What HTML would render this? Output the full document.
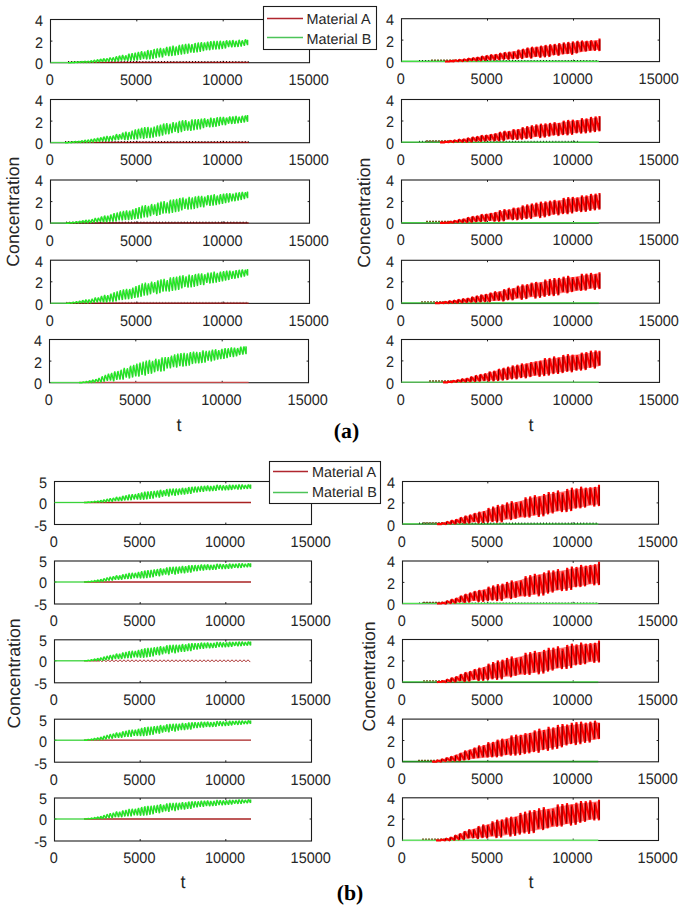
<!DOCTYPE html>
<html><head><meta charset="utf-8"><title>Concentration plots</title>
<style>html,body{margin:0;padding:0;background:#ffffff;}svg{display:block;text-rendering:geometricPrecision;}</style>
</head><body>
<svg width="685" height="910" viewBox="0 0 685 910">
<rect width="100%" height="100%" fill="#ffffff"/>
<rect x="50.5" y="19.5" width="259.0" height="43.2" fill="none" stroke="#1c1c1c" stroke-width="1.1"/>
<line x1="136.8" y1="19.5" x2="136.8" y2="21.4" stroke="#1c1c1c" stroke-width="1"/>
<line x1="136.8" y1="62.7" x2="136.8" y2="60.8" stroke="#1c1c1c" stroke-width="1"/>
<line x1="223.2" y1="19.5" x2="223.2" y2="21.4" stroke="#1c1c1c" stroke-width="1"/>
<line x1="223.2" y1="62.7" x2="223.2" y2="60.8" stroke="#1c1c1c" stroke-width="1"/>
<line x1="50.5" y1="41.1" x2="52.4" y2="41.1" stroke="#1c1c1c" stroke-width="1"/>
<line x1="309.5" y1="41.1" x2="307.6" y2="41.1" stroke="#1c1c1c" stroke-width="1"/>
<text transform="translate(43.00,25.90) scale(0.9450,1)" font-family='"Liberation Sans", sans-serif' font-size="15.3" text-anchor="end" fill="#262626">4</text>
<text transform="translate(43.00,47.50) scale(0.9450,1)" font-family='"Liberation Sans", sans-serif' font-size="15.3" text-anchor="end" fill="#262626">2</text>
<text transform="translate(43.00,69.10) scale(0.9450,1)" font-family='"Liberation Sans", sans-serif' font-size="15.3" text-anchor="end" fill="#262626">0</text>
<text transform="translate(49.70,85.00) scale(0.9450,1)" font-family='"Liberation Sans", sans-serif' font-size="15.3" text-anchor="middle" fill="#262626">0</text>
<text transform="translate(136.03,85.00) scale(0.9450,1)" font-family='"Liberation Sans", sans-serif' font-size="15.3" text-anchor="middle" fill="#262626">5000</text>
<text transform="translate(222.37,85.00) scale(0.9450,1)" font-family='"Liberation Sans", sans-serif' font-size="15.3" text-anchor="middle" fill="#262626">10000</text>
<text transform="translate(308.70,85.00) scale(0.9450,1)" font-family='"Liberation Sans", sans-serif' font-size="15.3" text-anchor="middle" fill="#262626">15000</text>
<line x1="68.0" y1="62.40" x2="248.6" y2="62.40" stroke="#9c1010" stroke-width="1.4"/>
<line x1="68.0" y1="61.60" x2="248.6" y2="61.60" stroke="#1a0000" stroke-width="1.2" stroke-dasharray="0.9 2.2" opacity="1.0"/>
<line x1="50.5" y1="62.5" x2="68.0" y2="62.5" stroke="#4cd24c" stroke-width="1.3"/>
<polyline points="68.00,62.70 69.10,62.60 71.15,62.69 72.25,62.28 74.30,62.69 75.40,61.99 77.45,62.62 78.55,61.66 80.60,62.66 81.70,61.38 83.75,62.63 84.85,61.13 86.89,62.70 88.00,61.02 90.04,62.69 91.15,60.61 93.19,62.48 94.30,60.02 96.34,62.38 97.44,59.51 99.49,62.19 100.59,58.88 102.64,61.86 103.74,58.42 105.79,61.81 106.89,58.36 108.94,61.49 110.04,57.51 112.09,61.02 113.19,57.36 115.24,61.52 116.34,56.33 118.39,61.19 119.49,55.58 121.54,60.70 122.64,54.99 124.68,60.63 125.79,55.29 127.83,60.88 128.94,53.65 130.98,60.70 132.08,53.11 134.13,60.53 135.23,52.58 137.28,60.45 138.38,51.86 140.43,59.79 141.53,51.14 143.58,58.98 144.68,51.53 146.73,59.46 147.83,49.99 149.88,59.30 150.98,50.11 153.03,58.92 154.13,48.97 156.18,58.19 157.28,48.30 159.32,57.30 160.43,47.95 162.47,57.48 163.58,48.45 165.62,55.67 166.72,46.81 168.77,56.18 169.87,46.51 171.92,55.98 173.02,45.55 175.07,55.57 176.17,46.46 178.22,55.01 179.32,44.95 181.37,54.71 182.47,44.35 184.52,54.06 185.62,43.79 187.67,53.71 188.77,43.61 190.82,52.60 191.92,44.10 193.96,52.79 195.07,42.96 197.11,52.30 198.22,42.52 200.26,51.87 201.37,42.16 203.41,51.15 204.51,42.41 206.56,50.28 207.66,41.55 209.71,50.28 210.81,41.16 212.86,49.62 213.96,40.94 216.01,49.52 217.11,40.91 219.16,49.39 220.26,40.79 222.31,48.99 223.41,41.04 225.46,48.50 226.56,40.26 228.61,47.02 229.71,40.41 231.75,47.28 232.86,40.03 234.90,47.15 236.01,40.83 238.05,46.96 239.15,39.82 241.20,46.55 242.30,40.31 244.35,45.84 245.45,39.33 247.50,45.14 247.50,39.64" fill="none" stroke="#22f022" stroke-width="1.4" stroke-linejoin="bevel" />
<path d="M84.05,61.36L84.05,62.55M87.19,61.26L87.19,62.60M90.34,60.94L90.34,62.58M93.49,60.39L93.49,62.36M96.64,59.90L96.64,62.24M99.79,59.31L99.79,62.03M102.94,58.88L102.94,61.68M106.09,58.83L106.09,61.62M109.24,58.03L109.24,61.27M112.39,57.93L112.39,60.78M115.54,56.96L115.54,61.26M118.69,56.25L118.69,60.91M121.84,55.70L121.84,60.39M124.98,56.01L124.98,60.30M128.13,54.44L128.13,60.53M131.28,53.94L131.28,60.32M134.43,53.44L134.43,60.13M137.58,52.76L137.58,60.02M140.73,52.08L140.73,59.34M143.88,52.49L143.88,58.50M147.03,50.96L147.03,58.97M150.18,51.09L150.18,58.81M153.33,49.95L153.33,58.42M156.48,49.29L156.48,57.69M159.62,48.95L159.62,56.80M162.77,49.45L162.77,56.97M165.92,47.81L165.92,55.16M169.07,47.52L169.07,55.67M172.22,46.57L172.22,55.46M175.37,47.49L175.37,55.04M178.52,45.98L178.52,54.48M181.67,45.31L181.67,54.18M184.82,44.73L184.82,53.54M187.97,44.54L187.97,53.20M191.12,45.03L191.12,52.09M194.26,43.88L194.26,52.29M197.41,43.43L197.41,51.80M200.56,43.06L200.56,51.38M203.71,43.30L203.71,50.67M206.86,42.42L206.86,49.81M210.01,42.03L210.01,49.81M213.16,41.80L213.16,49.15M216.31,41.69L216.31,49.06M219.46,41.55L219.46,48.94M222.61,41.79L222.61,48.56M225.76,40.98L225.76,48.08M228.91,41.11L228.91,46.61M232.05,40.71L232.05,46.89M235.20,41.50L235.20,46.77M238.35,40.46L238.35,46.59M241.50,40.94L241.50,46.19M244.65,39.93L244.65,45.50M247.80,40.17L247.80,44.81" fill="none" stroke="#3aa83a" stroke-width="0.6"/>
<rect x="50.5" y="99.5" width="259.0" height="43.2" fill="none" stroke="#1c1c1c" stroke-width="1.1"/>
<line x1="136.8" y1="99.5" x2="136.8" y2="101.4" stroke="#1c1c1c" stroke-width="1"/>
<line x1="136.8" y1="142.7" x2="136.8" y2="140.8" stroke="#1c1c1c" stroke-width="1"/>
<line x1="223.2" y1="99.5" x2="223.2" y2="101.4" stroke="#1c1c1c" stroke-width="1"/>
<line x1="223.2" y1="142.7" x2="223.2" y2="140.8" stroke="#1c1c1c" stroke-width="1"/>
<line x1="50.5" y1="121.1" x2="52.4" y2="121.1" stroke="#1c1c1c" stroke-width="1"/>
<line x1="309.5" y1="121.1" x2="307.6" y2="121.1" stroke="#1c1c1c" stroke-width="1"/>
<text transform="translate(43.00,105.90) scale(0.9450,1)" font-family='"Liberation Sans", sans-serif' font-size="15.3" text-anchor="end" fill="#262626">4</text>
<text transform="translate(43.00,127.50) scale(0.9450,1)" font-family='"Liberation Sans", sans-serif' font-size="15.3" text-anchor="end" fill="#262626">2</text>
<text transform="translate(43.00,149.10) scale(0.9450,1)" font-family='"Liberation Sans", sans-serif' font-size="15.3" text-anchor="end" fill="#262626">0</text>
<text transform="translate(49.70,165.00) scale(0.9450,1)" font-family='"Liberation Sans", sans-serif' font-size="15.3" text-anchor="middle" fill="#262626">0</text>
<text transform="translate(136.03,165.00) scale(0.9450,1)" font-family='"Liberation Sans", sans-serif' font-size="15.3" text-anchor="middle" fill="#262626">5000</text>
<text transform="translate(222.37,165.00) scale(0.9450,1)" font-family='"Liberation Sans", sans-serif' font-size="15.3" text-anchor="middle" fill="#262626">10000</text>
<text transform="translate(308.70,165.00) scale(0.9450,1)" font-family='"Liberation Sans", sans-serif' font-size="15.3" text-anchor="middle" fill="#262626">15000</text>
<line x1="65.0" y1="142.40" x2="248.6" y2="142.40" stroke="#9c1010" stroke-width="1.4"/>
<line x1="65.0" y1="141.60" x2="248.6" y2="141.60" stroke="#1a0000" stroke-width="1.2" stroke-dasharray="0.9 2.2" opacity="1.0"/>
<line x1="50.5" y1="142.5" x2="65.0" y2="142.5" stroke="#4cd24c" stroke-width="1.3"/>
<polyline points="65.00,142.70 66.10,142.57 68.15,142.70 69.25,142.18 71.29,142.70 72.39,141.69 74.44,142.70 75.54,141.25 77.59,142.57 78.69,141.09 80.73,142.62 81.83,140.46 83.88,142.57 84.98,139.97 87.03,142.58 88.13,139.73 90.17,142.66 91.27,139.08 93.32,142.39 94.42,138.51 96.47,141.87 97.57,137.86 99.61,141.90 100.71,137.38 102.76,141.25 103.86,136.60 105.91,141.26 107.01,135.97 109.05,141.27 110.15,136.05 112.20,140.83 113.30,135.43 115.34,140.35 116.45,134.03 118.49,140.09 119.59,134.21 121.64,139.42 122.74,132.55 124.78,140.17 125.89,131.61 127.93,140.19 129.03,132.04 131.08,139.28 132.18,130.54 134.22,139.53 135.33,129.28 137.37,139.45 138.47,128.72 140.52,138.43 141.62,127.72 143.66,138.81 144.77,127.13 146.81,138.23 147.91,126.98 149.96,138.18 151.06,127.52 153.10,137.60 154.20,126.54 156.25,136.72 157.35,125.33 159.40,136.36 160.50,124.60 162.54,135.61 163.64,123.46 165.69,134.44 166.79,123.03 168.84,134.25 169.94,123.73 171.98,133.19 173.08,122.06 175.13,131.82 176.23,122.47 178.28,133.00 179.38,120.86 181.42,132.08 182.52,120.24 184.57,130.93 185.67,120.06 187.72,130.65 188.82,121.36 190.86,130.85 191.96,119.35 194.01,130.28 195.11,119.20 197.16,129.74 198.26,119.04 200.30,129.32 201.40,118.63 203.45,128.19 204.55,118.23 206.59,127.00 207.70,119.02 209.74,127.37 210.84,117.69 212.89,127.16 213.99,118.05 216.03,126.73 217.14,117.22 219.18,126.01 220.28,116.90 222.33,125.16 223.43,116.85 225.47,125.27 226.58,117.53 228.62,123.68 229.72,116.37 231.77,124.02 232.87,116.35 234.91,123.76 236.02,115.82 238.06,123.33 239.16,116.67 241.21,122.79 242.31,115.74 244.35,122.43 245.45,115.37 247.50,121.82 247.50,115.07" fill="none" stroke="#22f022" stroke-width="1.4" stroke-linejoin="bevel" />
<path d="M77.89,141.35L77.89,142.49M81.03,140.79L81.03,142.51M84.18,140.33L84.18,142.44M87.33,140.12L87.33,142.43M90.47,139.57L90.47,142.48M93.62,139.03L93.62,142.19M96.77,138.41L96.77,141.66M99.91,137.96L99.91,141.67M103.06,137.21L103.06,141.00M106.21,136.62L106.21,140.99M109.35,136.71L109.35,140.98M112.50,136.18L112.50,140.52M115.64,134.84L115.64,140.01M118.79,135.04L118.79,139.72M121.94,133.45L121.94,139.02M125.08,132.56L125.08,139.74M128.23,133.01L128.23,139.73M131.38,131.58L131.38,138.79M134.52,130.37L134.52,139.02M137.67,129.86L137.67,138.91M140.82,128.91L140.82,137.86M143.96,128.36L143.96,138.21M147.11,128.16L147.11,137.62M150.26,128.70L150.26,137.57M153.40,127.73L153.40,136.99M156.55,126.51L156.55,136.11M159.70,125.78L159.70,135.75M162.84,124.65L162.84,135.00M165.99,124.21L165.99,133.83M169.14,124.92L169.14,133.63M172.28,123.25L172.28,132.58M175.43,123.65L175.43,131.21M178.58,122.04L178.58,132.38M181.72,121.32L181.72,131.47M184.87,121.12L184.87,130.33M188.02,122.42L188.02,130.06M191.16,120.38L191.16,130.28M194.31,120.21L194.31,129.72M197.46,120.02L197.46,129.19M200.60,119.60L200.60,128.78M203.75,119.18L203.75,127.66M206.89,119.96L206.89,126.48M210.04,118.60L210.04,126.86M213.19,118.95L213.19,126.67M216.33,118.06L216.33,126.25M219.48,117.71L219.48,125.55M222.63,117.65L222.63,124.71M225.77,118.32L225.77,124.83M228.92,117.13L228.92,123.25M232.07,117.09L232.07,123.61M235.21,116.53L235.21,123.36M238.36,117.37L238.36,122.95M241.51,116.41L241.51,122.42M244.65,116.02L244.65,122.07M247.80,115.62L247.80,121.47" fill="none" stroke="#3aa83a" stroke-width="0.6"/>
<rect x="50.5" y="180.0" width="259.0" height="43.2" fill="none" stroke="#1c1c1c" stroke-width="1.1"/>
<line x1="136.8" y1="180.0" x2="136.8" y2="181.9" stroke="#1c1c1c" stroke-width="1"/>
<line x1="136.8" y1="223.2" x2="136.8" y2="221.3" stroke="#1c1c1c" stroke-width="1"/>
<line x1="223.2" y1="180.0" x2="223.2" y2="181.9" stroke="#1c1c1c" stroke-width="1"/>
<line x1="223.2" y1="223.2" x2="223.2" y2="221.3" stroke="#1c1c1c" stroke-width="1"/>
<line x1="50.5" y1="201.6" x2="52.4" y2="201.6" stroke="#1c1c1c" stroke-width="1"/>
<line x1="309.5" y1="201.6" x2="307.6" y2="201.6" stroke="#1c1c1c" stroke-width="1"/>
<text transform="translate(43.00,186.40) scale(0.9450,1)" font-family='"Liberation Sans", sans-serif' font-size="15.3" text-anchor="end" fill="#262626">4</text>
<text transform="translate(43.00,208.00) scale(0.9450,1)" font-family='"Liberation Sans", sans-serif' font-size="15.3" text-anchor="end" fill="#262626">2</text>
<text transform="translate(43.00,229.60) scale(0.9450,1)" font-family='"Liberation Sans", sans-serif' font-size="15.3" text-anchor="end" fill="#262626">0</text>
<text transform="translate(49.70,245.50) scale(0.9450,1)" font-family='"Liberation Sans", sans-serif' font-size="15.3" text-anchor="middle" fill="#262626">0</text>
<text transform="translate(136.03,245.50) scale(0.9450,1)" font-family='"Liberation Sans", sans-serif' font-size="15.3" text-anchor="middle" fill="#262626">5000</text>
<text transform="translate(222.37,245.50) scale(0.9450,1)" font-family='"Liberation Sans", sans-serif' font-size="15.3" text-anchor="middle" fill="#262626">10000</text>
<text transform="translate(308.70,245.50) scale(0.9450,1)" font-family='"Liberation Sans", sans-serif' font-size="15.3" text-anchor="middle" fill="#262626">15000</text>
<line x1="66.0" y1="222.90" x2="248.6" y2="222.90" stroke="#8a0c0c" stroke-width="1.4"/>
<line x1="66.0" y1="222.10" x2="248.6" y2="222.10" stroke="#1a0000" stroke-width="1.2" stroke-dasharray="0.9 2.2" opacity="0.8"/>
<line x1="50.5" y1="223.0" x2="66.0" y2="223.0" stroke="#4cd24c" stroke-width="1.3"/>
<polyline points="66.00,223.20 67.10,223.03 69.13,223.20 70.22,222.51 72.26,223.18 73.35,222.01 75.39,223.06 76.48,221.47 78.52,223.14 79.61,221.01 81.65,222.90 82.74,220.41 84.78,223.00 85.87,219.87 87.91,223.12 89.00,219.79 91.03,222.91 92.13,219.16 94.16,222.52 95.26,217.95 97.29,222.29 98.39,217.89 100.42,221.74 101.52,216.45 103.55,222.28 104.65,215.54 106.68,222.28 107.78,215.73 109.81,221.53 110.91,214.38 112.94,221.67 114.03,213.17 116.07,221.43 117.16,212.51 119.20,220.40 120.29,211.49 122.33,220.53 123.42,210.81 125.46,220.04 126.55,210.37 128.59,220.14 129.68,210.57 131.72,219.78 132.81,209.43 134.84,219.14 135.94,208.03 137.97,218.99 139.07,207.07 141.10,218.45 142.20,205.67 144.23,217.45 145.33,205.02 147.36,217.31 148.46,205.78 150.49,216.16 151.59,203.94 153.62,214.68 154.72,204.38 156.75,215.98 157.85,202.60 159.88,214.97 160.97,201.66 163.01,213.63 164.10,201.14 166.14,213.29 167.23,202.37 169.27,213.52 170.36,199.71 172.40,212.85 173.49,199.24 175.53,212.23 176.62,198.75 178.66,211.75 179.75,197.97 181.78,210.40 182.88,197.48 184.91,208.98 186.01,198.58 188.04,209.61 189.14,196.90 191.17,209.48 192.27,197.45 194.30,209.05 195.40,196.33 197.43,208.17 198.53,195.86 200.56,207.12 201.66,195.77 203.69,207.37 204.78,196.68 206.82,205.26 207.91,195.05 209.95,205.87 211.04,195.00 213.08,205.62 214.17,194.21 216.21,205.11 217.30,195.48 219.34,204.37 220.43,194.18 222.47,203.90 223.56,193.69 225.59,203.07 226.69,193.21 228.72,202.53 229.82,193.09 231.85,201.29 232.95,193.57 234.98,201.23 236.08,192.57 238.11,200.56 239.21,192.22 241.24,199.95 242.34,191.94 244.37,199.10 245.47,192.14 247.50,198.15 247.50,191.55" fill="none" stroke="#22f022" stroke-width="1.4" stroke-linejoin="bevel" />
<path d="M75.69,221.78L75.69,222.98M78.82,221.36L78.82,223.03M81.95,220.80L81.95,222.77M85.08,220.31L85.08,222.84M88.21,220.25L88.21,222.94M91.33,219.75L91.33,222.70M94.46,218.61L94.46,222.28M97.59,218.56L97.59,222.02M100.72,217.20L100.72,221.44M103.85,216.35L103.85,221.95M106.98,216.56L106.98,221.92M110.11,215.27L110.11,221.14M113.24,214.13L113.24,221.25M116.37,213.51L116.37,220.98M119.50,212.54L119.50,219.93M122.63,211.90L122.63,220.03M125.76,211.48L125.76,219.52M128.89,211.71L128.89,219.59M132.02,210.62L132.02,219.21M135.14,209.26L135.14,218.54M138.27,208.34L138.27,218.38M141.40,206.99L141.40,217.81M144.53,206.35L144.53,216.79M147.66,207.08L147.66,216.63M150.79,205.25L150.79,215.49M153.92,205.68L153.92,214.00M157.05,203.91L157.05,215.30M160.18,202.97L160.18,214.29M163.31,202.45L163.31,212.95M166.44,203.69L166.44,212.60M169.57,201.03L169.57,212.84M172.70,200.56L172.70,212.17M175.83,200.08L175.83,211.54M178.96,199.30L178.96,211.06M182.08,198.69L182.08,209.71M185.21,199.78L185.21,208.30M188.34,198.07L188.34,208.94M191.47,198.61L191.47,208.83M194.60,197.47L194.60,208.41M197.73,196.98L197.73,207.54M200.86,196.87L200.86,206.50M203.99,197.78L203.99,206.76M207.12,196.12L207.12,204.67M210.25,196.05L210.25,205.28M213.38,195.24L213.38,205.05M216.51,196.48L216.51,204.55M219.64,195.14L219.64,203.83M222.77,194.62L222.77,203.38M225.89,194.10L225.89,202.57M229.02,193.95L229.02,202.05M232.15,194.41L232.15,200.83M235.28,193.37L235.28,200.79M238.41,192.99L238.41,200.14M241.54,192.68L241.54,199.54M244.67,192.85L244.67,198.71M247.80,192.13L247.80,197.79" fill="none" stroke="#3aa83a" stroke-width="0.6"/>
<rect x="50.5" y="260.2" width="259.0" height="43.2" fill="none" stroke="#1c1c1c" stroke-width="1.1"/>
<line x1="136.8" y1="260.2" x2="136.8" y2="262.1" stroke="#1c1c1c" stroke-width="1"/>
<line x1="136.8" y1="303.4" x2="136.8" y2="301.5" stroke="#1c1c1c" stroke-width="1"/>
<line x1="223.2" y1="260.2" x2="223.2" y2="262.1" stroke="#1c1c1c" stroke-width="1"/>
<line x1="223.2" y1="303.4" x2="223.2" y2="301.5" stroke="#1c1c1c" stroke-width="1"/>
<line x1="50.5" y1="281.8" x2="52.4" y2="281.8" stroke="#1c1c1c" stroke-width="1"/>
<line x1="309.5" y1="281.8" x2="307.6" y2="281.8" stroke="#1c1c1c" stroke-width="1"/>
<text transform="translate(43.00,266.60) scale(0.9450,1)" font-family='"Liberation Sans", sans-serif' font-size="15.3" text-anchor="end" fill="#262626">4</text>
<text transform="translate(43.00,288.20) scale(0.9450,1)" font-family='"Liberation Sans", sans-serif' font-size="15.3" text-anchor="end" fill="#262626">2</text>
<text transform="translate(43.00,309.80) scale(0.9450,1)" font-family='"Liberation Sans", sans-serif' font-size="15.3" text-anchor="end" fill="#262626">0</text>
<text transform="translate(49.70,325.70) scale(0.9450,1)" font-family='"Liberation Sans", sans-serif' font-size="15.3" text-anchor="middle" fill="#262626">0</text>
<text transform="translate(136.03,325.70) scale(0.9450,1)" font-family='"Liberation Sans", sans-serif' font-size="15.3" text-anchor="middle" fill="#262626">5000</text>
<text transform="translate(222.37,325.70) scale(0.9450,1)" font-family='"Liberation Sans", sans-serif' font-size="15.3" text-anchor="middle" fill="#262626">10000</text>
<text transform="translate(308.70,325.70) scale(0.9450,1)" font-family='"Liberation Sans", sans-serif' font-size="15.3" text-anchor="middle" fill="#262626">15000</text>
<line x1="66.0" y1="303.10" x2="248.6" y2="303.10" stroke="#a01414" stroke-width="1.4"/>
<line x1="66.0" y1="302.30" x2="248.6" y2="302.30" stroke="#1a0000" stroke-width="1.2" stroke-dasharray="0.9 2.2" opacity="0.3"/>
<line x1="50.5" y1="303.2" x2="66.0" y2="303.2" stroke="#4cd24c" stroke-width="1.3"/>
<polyline points="66.00,303.40 67.10,303.20 69.13,303.39 70.22,302.61 72.26,303.37 73.35,302.03 75.39,303.24 76.48,301.41 78.52,303.33 79.61,300.89 81.65,303.06 82.74,300.19 84.78,303.17 85.87,299.57 87.91,303.31 89.00,299.48 91.03,303.07 92.13,298.79 94.16,302.66 95.26,297.46 97.29,302.42 98.39,297.43 100.42,301.82 101.52,295.83 103.55,302.46 104.65,294.85 106.68,302.48 107.78,295.10 109.81,301.66 110.91,293.61 112.94,301.79 114.03,292.23 116.07,301.36 117.16,291.45 119.20,300.07 120.29,290.25 122.33,300.05 123.42,289.44 125.46,299.36 126.55,288.87 128.59,299.29 129.68,288.99 131.72,298.74 132.81,287.67 134.84,297.88 135.94,286.08 137.97,297.55 139.07,284.95 141.10,296.81 142.20,283.37 144.23,295.58 145.33,282.59 147.36,295.41 148.46,283.43 150.49,294.25 151.59,281.55 153.62,292.73 154.72,282.05 156.75,294.12 157.85,280.24 159.88,293.09 160.97,279.30 163.01,291.73 164.10,278.80 166.14,291.40 167.23,280.12 169.27,291.68 170.36,277.40 172.40,291.01 173.49,276.95 175.53,290.39 176.62,276.49 178.66,289.91 179.75,275.71 181.78,288.51 182.88,275.20 184.91,287.01 186.01,276.31 188.04,287.62 189.14,274.56 191.17,287.45 192.27,275.10 194.30,286.97 195.40,273.94 197.43,286.03 198.53,273.44 200.56,284.91 201.66,273.33 203.69,285.13 204.78,274.24 206.82,282.94 207.91,272.55 209.95,283.51 211.04,272.48 213.08,283.22 214.17,271.65 216.21,282.66 217.30,272.93 219.34,281.92 220.43,271.64 222.47,281.43 223.56,271.15 225.59,280.59 226.69,270.67 228.72,280.04 229.82,270.56 231.85,278.79 232.95,271.05 234.98,278.72 236.08,270.07 238.11,278.04 239.21,269.72 241.24,277.41 242.34,269.45 244.37,276.55 245.47,269.65 247.50,275.59 247.50,269.07" fill="none" stroke="#22f022" stroke-width="1.4" stroke-linejoin="bevel" />
<path d="M75.69,301.76L75.69,303.15M78.82,301.28L78.82,303.21M81.95,300.64L81.95,302.91M85.08,300.07L85.08,302.99M88.21,300.00L88.21,303.10M91.33,299.45L91.33,302.83M94.46,298.19L94.46,302.39M97.59,298.18L97.59,302.11M100.72,296.67L100.72,301.48M103.85,295.75L103.85,302.08M106.98,296.02L106.98,302.07M110.11,294.60L110.11,301.22M113.24,293.33L113.24,301.32M116.37,292.58L116.37,300.86M119.50,291.43L119.50,299.56M122.63,290.64L122.63,299.51M125.76,290.10L125.76,298.80M128.89,290.25L128.89,298.71M132.02,288.97L132.02,298.13M135.14,287.42L135.14,297.25M138.27,286.33L138.27,296.90M141.40,284.79L141.40,296.14M144.53,284.01L144.53,294.89M147.66,284.77L147.66,294.71M150.79,282.90L150.79,293.55M153.92,283.39L153.92,292.03M157.05,281.58L157.05,293.41M160.18,280.65L160.18,292.39M163.31,280.15L163.31,291.03M166.44,281.47L166.44,290.70M169.57,278.76L169.57,290.97M172.70,278.31L172.70,290.30M175.83,277.84L175.83,289.68M178.96,277.07L178.96,289.20M182.08,276.45L182.08,287.81M185.21,277.55L185.21,286.32M188.34,275.77L188.34,286.94M191.47,276.30L191.47,286.78M194.60,275.11L194.60,286.31M197.73,274.59L197.73,285.39M200.86,274.46L200.86,284.28M203.99,275.36L203.99,284.51M207.12,273.64L207.12,282.34M210.25,273.55L210.25,282.92M213.38,272.70L213.38,282.64M216.51,273.94L216.51,282.10M219.64,272.60L219.64,281.37M222.77,272.08L222.77,280.91M225.89,271.56L225.89,280.09M229.02,271.42L229.02,279.55M232.15,271.89L232.15,278.33M235.28,270.86L235.28,278.28M238.41,270.48L238.41,277.62M241.54,270.18L241.54,277.01M244.67,270.36L244.67,276.17M247.80,269.65L247.80,275.23" fill="none" stroke="#3aa83a" stroke-width="0.6"/>
<rect x="49.5" y="339.5" width="259.0" height="43.2" fill="none" stroke="#1c1c1c" stroke-width="1.1"/>
<line x1="135.8" y1="339.5" x2="135.8" y2="341.4" stroke="#1c1c1c" stroke-width="1"/>
<line x1="135.8" y1="382.7" x2="135.8" y2="380.8" stroke="#1c1c1c" stroke-width="1"/>
<line x1="222.2" y1="339.5" x2="222.2" y2="341.4" stroke="#1c1c1c" stroke-width="1"/>
<line x1="222.2" y1="382.7" x2="222.2" y2="380.8" stroke="#1c1c1c" stroke-width="1"/>
<line x1="49.5" y1="361.1" x2="51.4" y2="361.1" stroke="#1c1c1c" stroke-width="1"/>
<line x1="308.5" y1="361.1" x2="306.6" y2="361.1" stroke="#1c1c1c" stroke-width="1"/>
<text transform="translate(42.00,345.90) scale(0.9450,1)" font-family='"Liberation Sans", sans-serif' font-size="15.3" text-anchor="end" fill="#262626">4</text>
<text transform="translate(42.00,367.50) scale(0.9450,1)" font-family='"Liberation Sans", sans-serif' font-size="15.3" text-anchor="end" fill="#262626">2</text>
<text transform="translate(42.00,389.10) scale(0.9450,1)" font-family='"Liberation Sans", sans-serif' font-size="15.3" text-anchor="end" fill="#262626">0</text>
<text transform="translate(48.70,405.00) scale(0.9450,1)" font-family='"Liberation Sans", sans-serif' font-size="15.3" text-anchor="middle" fill="#262626">0</text>
<text transform="translate(135.03,405.00) scale(0.9450,1)" font-family='"Liberation Sans", sans-serif' font-size="15.3" text-anchor="middle" fill="#262626">5000</text>
<text transform="translate(221.37,405.00) scale(0.9450,1)" font-family='"Liberation Sans", sans-serif' font-size="15.3" text-anchor="middle" fill="#262626">10000</text>
<text transform="translate(307.70,405.00) scale(0.9450,1)" font-family='"Liberation Sans", sans-serif' font-size="15.3" text-anchor="middle" fill="#262626">15000</text>
<line x1="79.0" y1="382.40" x2="248.6" y2="382.40" stroke="#c44848" stroke-width="1.4"/>
<line x1="50.5" y1="382.5" x2="79.0" y2="382.5" stroke="#4cd24c" stroke-width="1.3"/>
<polyline points="79.00,382.70 80.10,382.47 82.15,382.70 83.25,381.80 85.30,382.70 86.40,381.21 88.45,382.60 89.56,380.45 91.60,382.70 92.71,379.77 94.75,382.52 95.86,379.13 97.91,381.96 99.01,377.99 101.06,382.32 102.16,376.25 104.21,381.74 105.31,374.96 107.36,380.85 108.46,373.58 110.51,380.59 111.61,372.79 113.66,381.34 114.76,371.34 116.81,379.80 117.91,371.03 119.96,379.68 121.07,369.74 123.11,379.73 124.22,367.93 126.26,377.63 127.37,368.21 129.42,378.50 130.52,365.74 132.57,377.55 133.67,364.80 135.72,376.46 136.82,363.59 138.87,376.64 139.97,362.52 142.02,374.94 143.12,361.68 145.17,375.77 146.27,360.61 148.32,373.99 149.42,359.90 151.47,373.79 152.57,360.75 154.62,372.27 155.73,358.71 157.77,371.12 158.88,359.39 160.92,371.59 162.03,357.24 164.08,371.09 165.18,357.01 167.23,368.51 168.33,357.03 170.38,368.33 171.48,355.55 173.53,367.24 174.63,354.42 176.68,367.64 177.78,353.62 179.83,366.16 180.93,353.12 182.98,366.69 184.08,352.89 186.13,366.24 187.23,353.42 189.28,365.67 190.39,352.08 192.43,364.01 193.54,351.55 195.58,363.34 196.69,351.79 198.74,363.45 199.84,352.07 201.89,363.05 202.99,350.24 205.04,362.56 206.14,350.92 208.19,360.77 209.29,350.69 211.34,361.56 212.44,349.60 214.49,360.53 215.59,349.23 217.64,359.56 218.74,350.15 220.79,359.08 221.90,348.80 223.94,358.90 225.05,348.09 227.09,358.10 228.20,348.25 230.25,357.00 231.35,347.44 233.40,357.08 234.50,347.66 236.55,356.32 237.65,347.99 239.70,354.95 240.80,346.66 242.85,354.65 243.95,346.44 246.00,354.13 246.00,346.35" fill="none" stroke="#22f022" stroke-width="1.4" stroke-linejoin="bevel" />
<path d="M88.75,380.85L88.75,382.50M91.90,380.22L91.90,382.56M95.05,379.80L95.05,382.35M98.21,378.79L98.21,381.73M101.36,377.18L101.36,382.04M104.51,375.98L104.51,381.39M107.66,374.70L107.66,380.44M110.81,373.93L110.81,380.12M113.96,372.50L113.96,380.84M117.11,372.22L117.11,379.27M120.26,370.98L120.26,379.13M123.41,369.23L123.41,379.15M126.56,369.53L126.56,377.02M129.72,367.11L129.72,377.87M132.87,366.22L132.87,376.89M136.02,365.05L136.02,375.78M139.17,364.02L139.17,375.93M142.32,363.22L142.32,374.20M145.47,362.06L145.47,375.02M148.62,361.33L148.62,373.24M151.77,362.19L151.77,373.05M154.92,360.14L154.92,371.53M158.07,360.82L158.07,370.38M161.22,358.65L161.22,370.86M164.38,358.42L164.38,370.36M167.53,358.44L167.53,367.78M170.68,356.95L170.68,367.61M173.83,355.81L173.83,366.52M176.98,355.01L176.98,366.93M180.13,354.40L180.13,365.45M183.28,354.16L183.28,365.99M186.43,354.67L186.43,365.55M189.58,353.32L189.58,364.98M192.73,352.77L192.73,363.34M195.88,353.00L195.88,362.68M199.04,353.27L199.04,362.79M202.19,351.42L202.19,362.40M205.34,352.09L205.34,361.92M208.49,351.84L208.49,360.14M211.64,350.74L211.64,360.94M214.79,350.30L214.79,359.92M217.94,351.20L217.94,358.97M221.09,349.81L221.09,358.51M224.24,349.07L224.24,358.35M227.39,349.19L227.39,357.57M230.55,348.35L230.55,356.49M233.70,348.55L233.70,356.59M236.85,348.85L236.85,355.85M240.00,347.48L240.00,354.50M243.15,347.23L243.15,354.22M246.30,347.01L246.30,353.71" fill="none" stroke="#3aa83a" stroke-width="0.6"/>
<rect x="401.5" y="18.7" width="258.0" height="42.9" fill="none" stroke="#1c1c1c" stroke-width="1.1"/>
<line x1="487.5" y1="18.7" x2="487.5" y2="20.6" stroke="#1c1c1c" stroke-width="1"/>
<line x1="487.5" y1="61.6" x2="487.5" y2="59.7" stroke="#1c1c1c" stroke-width="1"/>
<line x1="573.5" y1="18.7" x2="573.5" y2="20.6" stroke="#1c1c1c" stroke-width="1"/>
<line x1="573.5" y1="61.6" x2="573.5" y2="59.7" stroke="#1c1c1c" stroke-width="1"/>
<line x1="401.5" y1="40.1" x2="403.4" y2="40.1" stroke="#1c1c1c" stroke-width="1"/>
<line x1="659.5" y1="40.1" x2="657.6" y2="40.1" stroke="#1c1c1c" stroke-width="1"/>
<text transform="translate(394.00,25.10) scale(0.9450,1)" font-family='"Liberation Sans", sans-serif' font-size="15.3" text-anchor="end" fill="#262626">4</text>
<text transform="translate(394.00,46.55) scale(0.9450,1)" font-family='"Liberation Sans", sans-serif' font-size="15.3" text-anchor="end" fill="#262626">2</text>
<text transform="translate(394.00,68.00) scale(0.9450,1)" font-family='"Liberation Sans", sans-serif' font-size="15.3" text-anchor="end" fill="#262626">0</text>
<text transform="translate(400.70,83.90) scale(0.9450,1)" font-family='"Liberation Sans", sans-serif' font-size="15.3" text-anchor="middle" fill="#262626">0</text>
<text transform="translate(486.70,83.90) scale(0.9450,1)" font-family='"Liberation Sans", sans-serif' font-size="15.3" text-anchor="middle" fill="#262626">5000</text>
<text transform="translate(572.70,83.90) scale(0.9450,1)" font-family='"Liberation Sans", sans-serif' font-size="15.3" text-anchor="middle" fill="#262626">10000</text>
<text transform="translate(658.70,83.90) scale(0.9450,1)" font-family='"Liberation Sans", sans-serif' font-size="15.3" text-anchor="middle" fill="#262626">15000</text>
<line x1="401.5" y1="61.30" x2="598.8" y2="61.30" stroke="#44dd44" stroke-width="1.4"/>
<line x1="419.0" y1="60.50" x2="598.8" y2="60.50" stroke="#0a200a" stroke-width="1.2" stroke-dasharray="0.9 2.2" opacity="1.0"/>
<line x1="431.0" y1="60.20" x2="457.0" y2="60.20" stroke="#6a5a1a" stroke-width="1.3" stroke-dasharray="2 1"/>
<path d="M445.00,61.60L447.00,61.34L449.00,61.09L451.00,60.83L453.00,60.57L455.00,60.31L457.00,60.06L459.00,59.80L461.00,59.54L463.00,59.28L465.00,59.03L467.00,58.77L469.00,58.46L471.00,58.16L473.00,57.85L475.00,57.55L477.00,57.24L479.00,56.94L481.00,56.63L483.00,56.32L485.00,56.02L487.00,55.71L489.00,55.41L491.00,55.10L493.00,54.80L495.00,54.49L497.00,54.19L499.00,53.88L501.00,53.55L503.00,53.18L505.00,52.82L507.00,52.46L509.00,52.09L511.00,51.73L513.00,51.36L515.00,51.00L517.00,50.64L519.00,50.27L521.00,49.91L523.00,49.55L525.00,49.18L527.00,48.82L529.00,48.46L531.00,48.09L533.00,47.73L535.00,47.37L537.00,47.12L539.00,46.87L541.00,46.62L543.00,46.37L545.00,46.12L547.00,45.87L549.00,45.63L551.00,45.38L553.00,45.13L555.00,44.88L557.00,44.63L559.00,44.38L561.00,44.13L563.00,43.89L565.00,43.64L567.00,43.39L569.00,43.14L571.00,42.91L573.00,42.69L575.00,42.48L577.00,42.26L579.00,42.05L581.00,41.83L583.00,41.61L585.00,41.40L587.00,41.18L589.00,40.97L591.00,40.75L593.00,40.54L595.00,40.32L597.00,40.11L599.00,39.89L599.00,49.75L597.00,50.02L595.00,50.28L593.00,50.55L591.00,50.81L589.00,51.07L587.00,51.34L585.00,51.60L583.00,51.87L581.00,52.13L579.00,52.40L577.00,52.66L575.00,52.93L573.00,53.19L571.00,53.45L569.00,53.69L567.00,53.88L565.00,54.08L563.00,54.28L561.00,54.48L559.00,54.67L557.00,54.87L555.00,55.07L553.00,55.27L551.00,55.46L549.00,55.66L547.00,55.86L545.00,56.06L543.00,56.25L541.00,56.45L539.00,56.65L537.00,56.85L535.00,57.04L533.00,57.18L531.00,57.31L529.00,57.45L527.00,57.58L525.00,57.71L523.00,57.85L521.00,57.98L519.00,58.12L517.00,58.25L515.00,58.38L513.00,58.52L511.00,58.65L509.00,58.79L507.00,58.92L505.00,59.06L503.00,59.19L501.00,59.32L499.00,59.43L497.00,59.52L495.00,59.61L493.00,59.70L491.00,59.78L489.00,59.87L487.00,59.96L485.00,60.04L483.00,60.13L481.00,60.22L479.00,60.31L477.00,60.39L475.00,60.48L473.00,60.57L471.00,60.65L469.00,60.74L467.00,60.83L465.00,60.90L463.00,60.97L461.00,61.04L459.00,61.11L457.00,61.18L455.00,61.25L453.00,61.32L451.00,61.39L449.00,61.46L447.00,61.53L445.00,61.60Z" fill="#ff8080"/>
<polyline points="445.00,61.60 445.55,61.52 449.54,61.48 450.09,60.89 454.09,61.39 454.63,60.28 458.63,61.20 459.18,59.65 463.18,61.17 463.72,59.16 467.72,60.92 468.27,58.55 472.26,60.54 472.81,57.88 476.81,60.79 477.35,57.18 481.35,60.58 481.90,56.09 485.90,60.49 486.44,55.49 490.44,60.12 490.99,54.54 494.99,60.13 495.53,54.41 499.53,59.92 500.07,53.08 504.07,59.40 504.62,52.23 508.62,59.61 509.16,51.90 513.16,58.96 513.71,51.63 517.71,58.99 518.25,49.78 522.25,58.86 522.80,49.04 526.79,57.66 527.34,47.70 531.34,58.34 531.88,47.00 535.88,56.74 536.43,46.80 540.43,57.64 540.97,45.76 544.97,57.23 545.52,45.17 549.51,56.81 550.06,44.45 554.06,55.06 554.60,44.01 558.60,55.60 559.15,43.35 563.15,54.17 563.69,42.50 567.69,54.02 568.24,42.07 572.24,54.60 572.78,41.57 576.78,53.29 577.32,40.93 581.32,51.51 581.87,40.72 585.87,51.42 586.41,41.01 590.41,50.60 590.96,40.49 594.96,50.68 595.50,40.77 599.50,50.90 599.50,38.61" fill="none" stroke="#ff0000" stroke-width="2.1" stroke-linejoin="bevel" />
<path d="M458.93,59.85L458.93,61.12M463.48,59.40L463.48,61.06M468.02,58.84L468.02,60.79M472.56,58.23L472.56,60.38M477.11,57.58L477.11,60.59M481.65,56.54L481.65,60.35M486.20,55.99L486.20,60.23M490.74,55.09L490.74,59.83M495.29,55.00L495.29,59.81M499.83,53.73L499.83,59.57M504.37,52.95L504.37,59.01M508.92,52.67L508.92,59.19M513.46,52.44L513.46,58.51M518.01,50.66L518.01,58.51M522.55,49.97L522.55,58.35M527.09,48.68L527.09,57.11M531.64,48.03L531.64,57.76M536.18,47.84L536.18,56.13M540.73,46.81L540.73,57.03M545.27,46.23L545.27,56.61M549.81,45.52L549.81,56.18M554.36,45.09L554.36,54.43M558.90,44.44L558.90,54.96M563.45,43.61L563.45,53.52M567.99,43.19L567.99,53.37M572.54,42.68L572.54,53.95M577.08,42.03L577.08,52.64M581.62,41.80L581.62,50.86M586.17,42.09L586.17,50.79M590.71,41.56L590.71,49.98M595.26,41.83L595.26,50.05M599.80,39.59L599.80,50.28" fill="none" stroke="#5a0000" stroke-width="0.9"/>
<rect x="401.5" y="99.5" width="258.0" height="42.9" fill="none" stroke="#1c1c1c" stroke-width="1.1"/>
<line x1="487.5" y1="99.5" x2="487.5" y2="101.4" stroke="#1c1c1c" stroke-width="1"/>
<line x1="487.5" y1="142.4" x2="487.5" y2="140.5" stroke="#1c1c1c" stroke-width="1"/>
<line x1="573.5" y1="99.5" x2="573.5" y2="101.4" stroke="#1c1c1c" stroke-width="1"/>
<line x1="573.5" y1="142.4" x2="573.5" y2="140.5" stroke="#1c1c1c" stroke-width="1"/>
<line x1="401.5" y1="121.0" x2="403.4" y2="121.0" stroke="#1c1c1c" stroke-width="1"/>
<line x1="659.5" y1="121.0" x2="657.6" y2="121.0" stroke="#1c1c1c" stroke-width="1"/>
<text transform="translate(394.00,105.90) scale(0.9450,1)" font-family='"Liberation Sans", sans-serif' font-size="15.3" text-anchor="end" fill="#262626">4</text>
<text transform="translate(394.00,127.35) scale(0.9450,1)" font-family='"Liberation Sans", sans-serif' font-size="15.3" text-anchor="end" fill="#262626">2</text>
<text transform="translate(394.00,148.80) scale(0.9450,1)" font-family='"Liberation Sans", sans-serif' font-size="15.3" text-anchor="end" fill="#262626">0</text>
<text transform="translate(400.70,164.70) scale(0.9450,1)" font-family='"Liberation Sans", sans-serif' font-size="15.3" text-anchor="middle" fill="#262626">0</text>
<text transform="translate(486.70,164.70) scale(0.9450,1)" font-family='"Liberation Sans", sans-serif' font-size="15.3" text-anchor="middle" fill="#262626">5000</text>
<text transform="translate(572.70,164.70) scale(0.9450,1)" font-family='"Liberation Sans", sans-serif' font-size="15.3" text-anchor="middle" fill="#262626">10000</text>
<text transform="translate(658.70,164.70) scale(0.9450,1)" font-family='"Liberation Sans", sans-serif' font-size="15.3" text-anchor="middle" fill="#262626">15000</text>
<line x1="401.5" y1="142.10" x2="598.8" y2="142.10" stroke="#44dd44" stroke-width="1.4"/>
<line x1="419.0" y1="141.30" x2="580.0" y2="141.30" stroke="#0a200a" stroke-width="1.2" stroke-dasharray="0.9 2.2" opacity="0.8"/>
<line x1="426.0" y1="141.00" x2="452.0" y2="141.00" stroke="#6a5a1a" stroke-width="1.3" stroke-dasharray="2 1"/>
<path d="M440.00,142.40L442.00,142.11L444.00,141.81L446.00,141.52L448.00,141.22L450.00,140.93L452.00,140.64L454.00,140.34L456.00,140.05L458.00,139.75L460.00,139.46L462.00,139.17L464.00,138.87L466.00,138.58L468.00,138.26L470.00,137.92L472.00,137.59L474.00,137.25L476.00,136.91L478.00,136.57L480.00,136.23L482.00,135.89L484.00,135.56L486.00,135.22L488.00,134.88L490.00,134.54L492.00,134.20L494.00,133.87L496.00,133.53L498.00,133.19L500.00,132.85L502.00,132.46L504.00,132.07L506.00,131.67L508.00,131.28L510.00,130.89L512.00,130.50L514.00,130.11L516.00,129.71L518.00,129.32L520.00,128.93L522.00,128.54L524.00,128.15L526.00,127.75L528.00,127.36L530.00,126.97L532.00,126.58L534.00,126.19L536.00,125.86L538.00,125.59L540.00,125.32L542.00,125.05L544.00,124.78L546.00,124.51L548.00,124.24L550.00,123.97L552.00,123.70L554.00,123.44L556.00,123.17L558.00,122.90L560.00,122.63L562.00,122.36L564.00,122.09L566.00,121.82L568.00,121.55L570.00,121.28L572.00,121.02L574.00,120.75L576.00,120.49L578.00,120.22L580.00,119.96L582.00,119.69L584.00,119.43L586.00,119.16L588.00,118.90L590.00,118.63L592.00,118.37L594.00,118.11L596.00,117.84L598.00,117.58L598.00,130.15L596.00,130.40L594.00,130.64L592.00,130.89L590.00,131.13L588.00,131.37L586.00,131.62L584.00,131.86L582.00,132.11L580.00,132.35L578.00,132.60L576.00,132.84L574.00,133.08L572.00,133.33L570.00,133.57L568.00,133.78L566.00,133.98L564.00,134.18L562.00,134.39L560.00,134.59L558.00,134.80L556.00,135.00L554.00,135.20L552.00,135.41L550.00,135.61L548.00,135.82L546.00,136.02L544.00,136.23L542.00,136.43L540.00,136.63L538.00,136.84L536.00,137.04L534.00,137.23L532.00,137.41L530.00,137.58L528.00,137.75L526.00,137.93L524.00,138.10L522.00,138.28L520.00,138.45L518.00,138.63L516.00,138.80L514.00,138.97L512.00,139.15L510.00,139.32L508.00,139.50L506.00,139.67L504.00,139.85L502.00,140.02L500.00,140.19L498.00,140.29L496.00,140.38L494.00,140.47L492.00,140.56L490.00,140.65L488.00,140.74L486.00,140.83L484.00,140.92L482.00,141.01L480.00,141.10L478.00,141.19L476.00,141.28L474.00,141.37L472.00,141.47L470.00,141.56L468.00,141.65L466.00,141.72L464.00,141.77L462.00,141.82L460.00,141.88L458.00,141.93L456.00,141.98L454.00,142.03L452.00,142.09L450.00,142.14L448.00,142.19L446.00,142.24L444.00,142.30L442.00,142.35L440.00,142.40Z" fill="#ff8080"/>
<polyline points="440.00,142.40 440.55,142.32 444.56,142.35 445.10,141.61 449.11,142.24 449.66,140.84 453.67,142.14 454.22,140.17 458.23,141.90 458.78,139.41 462.79,142.02 463.33,139.14 467.34,142.07 467.89,137.98 471.90,141.94 472.45,137.06 476.46,141.37 477.00,136.53 481.01,141.32 481.56,135.38 485.57,141.17 486.12,135.04 490.13,140.41 490.68,134.28 494.69,140.99 495.23,133.54 499.24,141.03 499.79,132.01 503.80,140.74 504.35,131.04 508.36,139.00 508.90,131.10 512.91,139.75 513.46,129.40 517.47,139.78 518.02,129.34 522.03,139.37 522.58,127.25 526.59,138.91 527.13,126.33 531.14,138.72 531.69,125.42 535.70,136.53 536.25,124.57 540.26,137.99 540.80,123.81 544.81,137.45 545.36,123.55 549.37,136.51 549.92,123.04 553.93,135.33 554.48,122.28 558.49,136.08 559.03,123.13 563.04,134.95 563.59,120.72 567.60,135.28 568.15,120.09 572.16,134.69 572.70,119.89 576.71,133.19 577.26,120.20 581.27,133.56 581.82,118.36 585.83,133.20 586.38,118.42 590.39,132.40 590.93,116.95 594.94,131.97 595.49,116.58 599.50,131.31 599.50,115.92" fill="none" stroke="#ff0000" stroke-width="2.1" stroke-linejoin="bevel" />
<path d="M453.97,140.42L453.97,142.04M458.53,139.71L458.53,141.76M463.09,139.49L463.09,141.85M467.64,138.41L467.64,141.87M472.20,137.55L472.20,141.69M476.76,137.07L476.76,141.09M481.31,135.98L481.31,141.01M485.87,135.69L485.87,140.83M490.43,134.98L490.43,140.03M494.99,134.30L494.99,140.58M499.54,132.83L499.54,140.58M504.10,131.93L504.10,140.26M508.66,132.03L508.66,138.49M513.21,130.39L513.21,139.21M517.77,130.37L517.77,139.20M522.33,128.34L522.33,138.76M526.89,127.47L526.89,138.27M531.44,126.61L531.44,138.05M536.00,125.76L536.00,135.83M540.56,125.01L540.56,137.28M545.11,124.78L545.11,136.74M549.67,124.27L549.67,135.78M554.23,123.53L554.23,134.59M558.79,124.39L558.79,135.34M563.34,122.00L563.34,134.19M567.90,121.39L567.90,134.51M572.46,121.19L572.46,133.92M577.01,121.51L577.01,132.41M581.57,119.67L581.57,132.79M586.13,119.74L586.13,132.42M590.69,118.28L590.69,131.62M595.24,117.91L595.24,131.19M599.80,117.18L599.80,130.52" fill="none" stroke="#5a0000" stroke-width="0.9"/>
<rect x="401.5" y="180.0" width="258.0" height="42.9" fill="none" stroke="#1c1c1c" stroke-width="1.1"/>
<line x1="487.5" y1="180.0" x2="487.5" y2="181.9" stroke="#1c1c1c" stroke-width="1"/>
<line x1="487.5" y1="222.9" x2="487.5" y2="221.0" stroke="#1c1c1c" stroke-width="1"/>
<line x1="573.5" y1="180.0" x2="573.5" y2="181.9" stroke="#1c1c1c" stroke-width="1"/>
<line x1="573.5" y1="222.9" x2="573.5" y2="221.0" stroke="#1c1c1c" stroke-width="1"/>
<line x1="401.5" y1="201.4" x2="403.4" y2="201.4" stroke="#1c1c1c" stroke-width="1"/>
<line x1="659.5" y1="201.4" x2="657.6" y2="201.4" stroke="#1c1c1c" stroke-width="1"/>
<text transform="translate(394.00,186.40) scale(0.9450,1)" font-family='"Liberation Sans", sans-serif' font-size="15.3" text-anchor="end" fill="#262626">4</text>
<text transform="translate(394.00,207.85) scale(0.9450,1)" font-family='"Liberation Sans", sans-serif' font-size="15.3" text-anchor="end" fill="#262626">2</text>
<text transform="translate(394.00,229.30) scale(0.9450,1)" font-family='"Liberation Sans", sans-serif' font-size="15.3" text-anchor="end" fill="#262626">0</text>
<text transform="translate(400.70,245.20) scale(0.9450,1)" font-family='"Liberation Sans", sans-serif' font-size="15.3" text-anchor="middle" fill="#262626">0</text>
<text transform="translate(486.70,245.20) scale(0.9450,1)" font-family='"Liberation Sans", sans-serif' font-size="15.3" text-anchor="middle" fill="#262626">5000</text>
<text transform="translate(572.70,245.20) scale(0.9450,1)" font-family='"Liberation Sans", sans-serif' font-size="15.3" text-anchor="middle" fill="#262626">10000</text>
<text transform="translate(658.70,245.20) scale(0.9450,1)" font-family='"Liberation Sans", sans-serif' font-size="15.3" text-anchor="middle" fill="#262626">15000</text>
<line x1="401.5" y1="222.60" x2="598.8" y2="222.60" stroke="#50e050" stroke-width="1.4"/>
<line x1="401.5" y1="223.30" x2="598.8" y2="223.30" stroke="#2a6a2a" stroke-width="0.8"/>
<line x1="426.0" y1="221.50" x2="452.0" y2="221.50" stroke="#6a5a1a" stroke-width="1.3" stroke-dasharray="2 1"/>
<path d="M440.00,222.90L442.00,222.73L444.00,222.56L446.00,222.39L448.00,222.21L450.00,221.90L452.00,221.43L454.00,220.97L456.00,220.51L458.00,220.05L460.00,219.58L462.00,219.12L464.00,218.66L466.00,218.20L468.00,217.77L470.00,217.37L472.00,216.98L474.00,216.59L476.00,216.19L478.00,215.80L480.00,215.40L482.00,215.01L484.00,214.61L486.00,214.22L488.00,213.83L490.00,213.43L492.00,213.04L494.00,212.64L496.00,212.25L498.00,211.85L500.00,211.46L502.00,211.06L504.00,210.65L506.00,210.25L508.00,209.85L510.00,209.44L512.00,209.04L514.00,208.64L516.00,208.23L518.00,207.83L520.00,207.43L522.00,207.02L524.00,206.62L526.00,206.22L528.00,205.81L530.00,205.41L532.00,205.01L534.00,204.60L536.00,204.24L538.00,203.91L540.00,203.58L542.00,203.25L544.00,202.92L546.00,202.59L548.00,202.26L550.00,201.93L552.00,201.60L554.00,201.27L556.00,200.94L558.00,200.61L560.00,200.28L562.00,199.95L564.00,199.62L566.00,199.29L568.00,198.97L570.00,198.64L572.00,198.36L574.00,198.08L576.00,197.81L578.00,197.53L580.00,197.25L582.00,196.98L584.00,196.70L586.00,196.42L588.00,196.15L590.00,195.87L592.00,195.59L594.00,195.32L596.00,195.04L598.00,194.76L598.00,208.25L596.00,208.53L594.00,208.81L592.00,209.09L590.00,209.37L588.00,209.65L586.00,209.93L584.00,210.21L582.00,210.48L580.00,210.76L578.00,211.04L576.00,211.32L574.00,211.60L572.00,211.88L570.00,212.16L568.00,212.44L566.00,212.71L564.00,212.99L562.00,213.27L560.00,213.55L558.00,213.83L556.00,214.11L554.00,214.39L552.00,214.66L550.00,214.94L548.00,215.22L546.00,215.50L544.00,215.78L542.00,216.06L540.00,216.34L538.00,216.61L536.00,216.89L534.00,217.13L532.00,217.33L530.00,217.52L528.00,217.72L526.00,217.92L524.00,218.12L522.00,218.31L520.00,218.51L518.00,218.71L516.00,218.91L514.00,219.10L512.00,219.30L510.00,219.50L508.00,219.70L506.00,219.89L504.00,220.09L502.00,220.29L500.00,220.48L498.00,220.58L496.00,220.68L494.00,220.78L492.00,220.87L490.00,220.97L488.00,221.07L486.00,221.16L484.00,221.26L482.00,221.36L480.00,221.45L478.00,221.55L476.00,221.65L474.00,221.75L472.00,221.84L470.00,221.94L468.00,222.04L466.00,222.13L464.00,222.21L462.00,222.29L460.00,222.37L458.00,222.45L456.00,222.53L454.00,222.61L452.00,222.69L450.00,222.77L448.00,222.82L446.00,222.84L444.00,222.86L442.00,222.88L440.00,222.90Z" fill="#ff8080"/>
<polyline points="440.00,222.90 440.55,222.85 444.56,222.90 445.10,222.44 449.11,222.86 449.66,221.88 453.67,222.72 454.22,220.79 458.23,222.41 458.78,219.60 462.79,222.52 463.33,219.02 467.34,222.57 467.89,217.41 471.90,222.43 472.45,216.33 476.46,221.76 477.00,215.73 481.01,221.74 481.56,214.36 485.57,221.59 486.12,214.01 490.13,220.68 490.68,213.11 494.69,221.43 495.23,212.25 499.24,221.51 499.79,210.42 503.80,221.18 504.35,209.42 508.36,219.10 508.90,209.66 512.91,220.02 513.46,207.79 517.47,220.06 518.02,207.85 522.03,219.58 522.58,205.55 526.59,219.05 527.13,204.61 531.14,218.82 531.69,203.68 535.70,216.32 536.25,202.78 540.26,217.86 540.80,201.86 544.81,217.14 545.36,201.52 549.37,215.96 549.92,200.88 553.93,214.53 554.48,199.98 558.49,215.24 559.03,200.85 563.04,213.86 563.59,198.12 567.60,214.10 568.15,197.35 572.16,213.37 572.70,197.12 576.71,211.70 577.26,197.50 581.27,212.07 581.82,195.52 585.83,211.64 586.38,195.62 590.39,210.74 590.93,194.06 594.94,210.23 595.49,193.68 599.50,209.48 599.50,193.00" fill="none" stroke="#ff0000" stroke-width="2.1" stroke-linejoin="bevel" />
<path d="M453.97,221.08L453.97,222.62M458.53,219.98L458.53,222.26M463.09,219.47L463.09,222.32M467.64,217.94L467.64,222.31M472.20,216.93L472.20,222.13M476.76,216.40L476.76,221.41M481.31,215.10L481.31,221.35M485.87,214.80L485.87,221.16M490.43,213.98L490.43,220.20M494.99,213.19L494.99,220.92M499.54,211.43L499.54,220.95M504.10,210.48L504.10,220.59M508.66,210.76L508.66,218.49M513.21,208.94L513.21,219.37M517.77,209.04L517.77,219.38M522.33,206.80L522.33,218.88M526.89,205.90L526.89,218.31M531.44,205.02L531.44,218.05M536.00,204.13L536.00,215.53M540.56,203.23L540.56,217.06M545.11,202.90L545.11,216.33M549.67,202.28L549.67,215.15M554.23,201.38L554.23,213.71M558.79,202.26L558.79,214.42M563.34,199.54L563.34,213.03M567.90,198.79L567.90,213.26M572.46,198.55L572.46,212.53M577.01,198.93L577.01,210.85M581.57,196.94L581.57,211.23M586.13,197.04L586.13,210.79M590.69,195.49L590.69,209.90M595.24,195.11L595.24,209.39M599.80,194.35L599.80,208.63" fill="none" stroke="#5a0000" stroke-width="0.9"/>
<rect x="401.5" y="260.3" width="258.0" height="42.9" fill="none" stroke="#1c1c1c" stroke-width="1.1"/>
<line x1="487.5" y1="260.3" x2="487.5" y2="262.2" stroke="#1c1c1c" stroke-width="1"/>
<line x1="487.5" y1="303.2" x2="487.5" y2="301.3" stroke="#1c1c1c" stroke-width="1"/>
<line x1="573.5" y1="260.3" x2="573.5" y2="262.2" stroke="#1c1c1c" stroke-width="1"/>
<line x1="573.5" y1="303.2" x2="573.5" y2="301.3" stroke="#1c1c1c" stroke-width="1"/>
<line x1="401.5" y1="281.8" x2="403.4" y2="281.8" stroke="#1c1c1c" stroke-width="1"/>
<line x1="659.5" y1="281.8" x2="657.6" y2="281.8" stroke="#1c1c1c" stroke-width="1"/>
<text transform="translate(394.00,266.70) scale(0.9450,1)" font-family='"Liberation Sans", sans-serif' font-size="15.3" text-anchor="end" fill="#262626">4</text>
<text transform="translate(394.00,288.15) scale(0.9450,1)" font-family='"Liberation Sans", sans-serif' font-size="15.3" text-anchor="end" fill="#262626">2</text>
<text transform="translate(394.00,309.60) scale(0.9450,1)" font-family='"Liberation Sans", sans-serif' font-size="15.3" text-anchor="end" fill="#262626">0</text>
<text transform="translate(400.70,325.50) scale(0.9450,1)" font-family='"Liberation Sans", sans-serif' font-size="15.3" text-anchor="middle" fill="#262626">0</text>
<text transform="translate(486.70,325.50) scale(0.9450,1)" font-family='"Liberation Sans", sans-serif' font-size="15.3" text-anchor="middle" fill="#262626">5000</text>
<text transform="translate(572.70,325.50) scale(0.9450,1)" font-family='"Liberation Sans", sans-serif' font-size="15.3" text-anchor="middle" fill="#262626">10000</text>
<text transform="translate(658.70,325.50) scale(0.9450,1)" font-family='"Liberation Sans", sans-serif' font-size="15.3" text-anchor="middle" fill="#262626">15000</text>
<line x1="401.5" y1="302.90" x2="598.8" y2="302.90" stroke="#50e050" stroke-width="1.4"/>
<line x1="401.5" y1="303.60" x2="598.8" y2="303.60" stroke="#2a6a2a" stroke-width="0.8"/>
<line x1="421.0" y1="301.80" x2="447.0" y2="301.80" stroke="#6a5a1a" stroke-width="1.3" stroke-dasharray="2 1"/>
<path d="M435.00,303.20L437.00,302.92L439.00,302.65L441.00,302.37L443.00,302.10L445.00,301.82L447.00,301.55L449.00,301.27L451.00,300.96L453.00,300.66L455.00,300.35L457.00,300.05L459.00,299.74L461.00,299.44L463.00,299.13L465.00,298.83L467.00,298.52L469.00,298.08L471.00,297.64L473.00,297.20L475.00,296.77L477.00,296.33L479.00,295.89L481.00,295.45L483.00,295.01L485.00,294.57L487.00,294.13L489.00,293.69L491.00,293.25L493.00,292.81L495.00,292.37L497.00,291.93L499.00,291.49L501.00,291.03L503.00,290.56L505.00,290.09L507.00,289.62L509.00,289.15L511.00,288.68L513.00,288.21L515.00,287.74L517.00,287.27L519.00,286.80L521.00,286.33L523.00,285.86L525.00,285.39L527.00,284.92L529.00,284.45L531.00,283.98L533.00,283.51L535.00,283.04L537.00,282.71L539.00,282.39L541.00,282.06L543.00,281.74L545.00,281.41L547.00,281.09L549.00,280.77L551.00,280.44L553.00,280.12L555.00,279.79L557.00,279.47L559.00,279.14L561.00,278.82L563.00,278.49L565.00,278.17L567.00,277.84L569.00,277.52L571.00,277.22L573.00,276.94L575.00,276.66L577.00,276.37L579.00,276.09L581.00,275.81L583.00,275.53L585.00,275.25L587.00,274.97L589.00,274.69L591.00,274.41L593.00,274.13L595.00,273.85L597.00,273.57L599.00,273.29L599.00,287.40L597.00,287.72L595.00,288.03L593.00,288.35L591.00,288.66L589.00,288.98L587.00,289.30L585.00,289.61L583.00,289.93L581.00,290.24L579.00,290.56L577.00,290.87L575.00,291.19L573.00,291.50L571.00,291.82L569.00,292.11L567.00,292.39L565.00,292.66L563.00,292.93L561.00,293.21L559.00,293.48L557.00,293.76L555.00,294.03L553.00,294.30L551.00,294.58L549.00,294.85L547.00,295.12L545.00,295.40L543.00,295.67L541.00,295.94L539.00,296.22L537.00,296.49L535.00,296.76L533.00,296.98L531.00,297.19L529.00,297.41L527.00,297.62L525.00,297.83L523.00,298.05L521.00,298.26L519.00,298.47L517.00,298.69L515.00,298.90L513.00,299.11L511.00,299.33L509.00,299.54L507.00,299.75L505.00,299.97L503.00,300.18L501.00,300.39L499.00,300.56L497.00,300.67L495.00,300.77L493.00,300.88L491.00,300.99L489.00,301.10L487.00,301.21L485.00,301.32L483.00,301.43L481.00,301.54L479.00,301.65L477.00,301.75L475.00,301.86L473.00,301.97L471.00,302.08L469.00,302.19L467.00,302.30L465.00,302.38L463.00,302.45L461.00,302.53L459.00,302.60L457.00,302.68L455.00,302.76L453.00,302.83L451.00,302.91L449.00,302.99L447.00,303.02L445.00,303.05L443.00,303.08L441.00,303.11L439.00,303.14L437.00,303.17L435.00,303.20Z" fill="#ff8080"/>
<polyline points="435.00,303.20 435.55,303.12 439.57,303.20 440.12,302.43 444.14,303.09 444.69,301.86 448.71,303.19 449.26,301.02 453.28,303.06 453.83,300.44 457.85,302.99 458.40,299.49 462.42,302.78 462.97,298.73 466.99,302.47 467.53,298.20 471.56,302.18 472.10,296.90 476.13,302.46 476.67,295.78 480.69,302.26 481.24,294.65 485.26,301.87 485.81,294.13 489.83,301.95 490.38,292.84 494.40,300.57 494.95,291.51 498.97,300.55 499.52,291.65 503.54,301.26 504.09,289.26 508.11,300.05 508.66,287.95 512.68,300.24 513.23,288.49 517.25,298.02 517.80,285.74 521.82,299.61 522.37,284.60 526.39,299.00 526.94,284.43 530.96,296.48 531.51,282.75 535.53,298.37 536.08,282.01 540.10,297.80 540.65,282.48 544.67,296.68 545.22,279.65 549.24,295.77 549.78,278.93 553.81,295.92 554.35,278.15 558.38,295.29 558.92,278.14 562.94,292.08 563.49,276.82 567.51,293.23 568.06,275.90 572.08,291.91 572.63,277.37 576.65,290.35 577.20,277.09 581.22,290.61 581.77,273.90 585.79,290.53 586.34,273.66 590.36,288.50 590.91,273.01 594.93,289.68 595.48,273.98 599.50,289.05 599.50,272.34" fill="none" stroke="#ff0000" stroke-width="2.1" stroke-linejoin="bevel" />
<path d="M449.01,301.28L449.01,303.08M453.58,300.74L453.58,302.92M458.15,299.86L458.15,302.82M462.72,299.15L462.72,302.58M467.29,298.71L467.29,302.24M471.86,297.48L471.86,301.89M476.43,296.44L476.43,302.13M480.99,295.38L480.99,301.88M485.56,294.93L485.56,301.44M490.13,293.72L490.13,301.48M494.70,292.47L494.70,300.05M499.27,292.68L499.27,299.98M503.84,290.37L503.84,300.66M508.41,289.11L508.41,299.41M512.98,289.71L512.98,299.56M517.55,287.02L517.55,297.31M522.12,285.94L522.12,298.85M526.69,285.83L526.69,298.21M531.26,284.21L531.26,295.66M535.83,283.47L535.83,297.51M540.40,283.96L540.40,296.93M544.97,281.14L544.97,295.81M549.54,280.43L549.54,294.89M554.11,279.67L554.11,295.03M558.68,279.67L558.68,294.40M563.24,278.35L563.24,291.18M567.81,277.44L567.81,292.32M572.38,278.91L572.38,291.00M576.95,278.62L576.95,289.45M581.52,275.42L581.52,289.71M586.09,275.17L586.09,289.63M590.66,274.51L590.66,287.61M595.23,275.48L595.23,288.80M599.80,273.75L599.80,288.16" fill="none" stroke="#5a0000" stroke-width="0.9"/>
<rect x="401.5" y="339.5" width="258.0" height="42.9" fill="none" stroke="#1c1c1c" stroke-width="1.1"/>
<line x1="487.5" y1="339.5" x2="487.5" y2="341.4" stroke="#1c1c1c" stroke-width="1"/>
<line x1="487.5" y1="382.4" x2="487.5" y2="380.5" stroke="#1c1c1c" stroke-width="1"/>
<line x1="573.5" y1="339.5" x2="573.5" y2="341.4" stroke="#1c1c1c" stroke-width="1"/>
<line x1="573.5" y1="382.4" x2="573.5" y2="380.5" stroke="#1c1c1c" stroke-width="1"/>
<line x1="401.5" y1="360.9" x2="403.4" y2="360.9" stroke="#1c1c1c" stroke-width="1"/>
<line x1="659.5" y1="360.9" x2="657.6" y2="360.9" stroke="#1c1c1c" stroke-width="1"/>
<text transform="translate(394.00,345.90) scale(0.9450,1)" font-family='"Liberation Sans", sans-serif' font-size="15.3" text-anchor="end" fill="#262626">4</text>
<text transform="translate(394.00,367.35) scale(0.9450,1)" font-family='"Liberation Sans", sans-serif' font-size="15.3" text-anchor="end" fill="#262626">2</text>
<text transform="translate(394.00,388.80) scale(0.9450,1)" font-family='"Liberation Sans", sans-serif' font-size="15.3" text-anchor="end" fill="#262626">0</text>
<text transform="translate(400.70,404.70) scale(0.9450,1)" font-family='"Liberation Sans", sans-serif' font-size="15.3" text-anchor="middle" fill="#262626">0</text>
<text transform="translate(486.70,404.70) scale(0.9450,1)" font-family='"Liberation Sans", sans-serif' font-size="15.3" text-anchor="middle" fill="#262626">5000</text>
<text transform="translate(572.70,404.70) scale(0.9450,1)" font-family='"Liberation Sans", sans-serif' font-size="15.3" text-anchor="middle" fill="#262626">10000</text>
<text transform="translate(658.70,404.70) scale(0.9450,1)" font-family='"Liberation Sans", sans-serif' font-size="15.3" text-anchor="middle" fill="#262626">15000</text>
<line x1="401.5" y1="382.10" x2="598.8" y2="382.10" stroke="#66e066" stroke-width="1.4"/>
<line x1="429.0" y1="381.00" x2="455.0" y2="381.00" stroke="#6a5a1a" stroke-width="1.3" stroke-dasharray="2 1"/>
<path d="M443.00,382.40L445.00,382.14L447.00,381.89L449.00,381.63L451.00,381.25L453.00,380.87L455.00,380.49L457.00,380.12L459.00,379.74L461.00,379.36L463.00,378.98L465.00,378.60L467.00,378.23L469.00,377.72L471.00,377.21L473.00,376.70L475.00,376.19L477.00,375.68L479.00,375.17L481.00,374.66L483.00,374.15L485.00,373.64L487.00,373.13L489.00,372.62L491.00,372.11L493.00,371.60L495.00,371.09L497.00,370.58L499.00,370.07L501.00,369.58L503.00,369.12L505.00,368.65L507.00,368.18L509.00,367.71L511.00,367.25L513.00,366.78L515.00,366.31L517.00,365.84L519.00,365.38L521.00,364.91L523.00,364.44L525.00,363.97L527.00,363.51L529.00,363.04L531.00,362.57L533.00,362.10L535.00,361.64L537.00,361.29L539.00,360.94L541.00,360.59L543.00,360.24L545.00,359.90L547.00,359.55L549.00,359.20L551.00,358.85L553.00,358.50L555.00,358.16L557.00,357.81L559.00,357.46L561.00,357.11L563.00,356.76L565.00,356.41L567.00,356.07L569.00,355.72L571.00,355.40L573.00,355.12L575.00,354.85L577.00,354.57L579.00,354.29L581.00,354.01L583.00,353.73L585.00,353.45L587.00,353.17L589.00,352.89L591.00,352.61L593.00,352.33L595.00,352.05L597.00,351.77L599.00,351.49L599.00,366.18L597.00,366.49L595.00,366.80L593.00,367.11L591.00,367.41L589.00,367.72L587.00,368.03L585.00,368.34L583.00,368.65L581.00,368.95L579.00,369.26L577.00,369.57L575.00,369.88L573.00,370.18L571.00,370.49L569.00,370.79L567.00,371.08L565.00,371.37L563.00,371.66L561.00,371.95L559.00,372.24L557.00,372.53L555.00,372.81L553.00,373.10L551.00,373.39L549.00,373.68L547.00,373.97L545.00,374.26L543.00,374.55L541.00,374.84L539.00,375.13L537.00,375.42L535.00,375.71L533.00,375.93L531.00,376.16L529.00,376.39L527.00,376.61L525.00,376.84L523.00,377.07L521.00,377.29L519.00,377.52L517.00,377.74L515.00,377.97L513.00,378.20L511.00,378.42L509.00,378.65L507.00,378.88L505.00,379.10L503.00,379.33L501.00,379.55L499.00,379.72L497.00,379.84L495.00,379.95L493.00,380.07L491.00,380.18L489.00,380.30L487.00,380.41L485.00,380.53L483.00,380.64L481.00,380.75L479.00,380.87L477.00,380.98L475.00,381.10L473.00,381.21L471.00,381.33L469.00,381.44L467.00,381.55L465.00,381.64L463.00,381.72L461.00,381.81L459.00,381.89L457.00,381.98L455.00,382.06L453.00,382.15L451.00,382.23L449.00,382.31L447.00,382.34L445.00,382.37L443.00,382.40Z" fill="#ff8080"/>
<polyline points="443.00,382.40 443.55,382.32 447.60,382.40 448.16,381.66 452.21,382.31 452.76,380.80 456.81,382.12 457.36,379.89 461.41,381.82 461.96,378.94 466.01,381.95 466.57,378.41 470.62,381.57 471.17,376.67 475.22,381.68 475.77,375.39 479.82,381.48 480.38,374.31 484.43,380.80 484.98,373.58 489.03,381.14 489.58,371.62 493.63,381.11 494.18,370.81 498.24,380.77 498.79,368.93 502.84,380.52 503.39,367.94 507.44,379.97 507.99,366.70 512.04,379.25 512.60,365.49 516.65,379.26 517.20,364.70 521.25,378.02 521.80,363.56 525.85,378.32 526.41,363.44 530.46,377.00 531.01,362.39 535.06,375.39 535.61,361.52 539.66,376.78 540.21,360.71 544.26,375.87 544.82,358.35 548.87,375.41 549.42,358.07 553.47,374.03 554.02,356.54 558.07,373.87 558.63,357.51 562.68,373.05 563.23,355.05 567.28,371.73 567.83,354.31 571.88,372.16 572.43,354.84 576.49,370.59 577.04,355.37 581.09,370.47 581.64,352.71 585.69,369.98 586.24,352.30 590.29,367.63 590.85,350.85 594.90,368.49 595.45,350.51 599.50,365.78 599.50,350.83" fill="none" stroke="#ff0000" stroke-width="2.1" stroke-linejoin="bevel" />
<path d="M457.11,380.19L457.11,382.00M461.71,379.30L461.71,381.66M466.31,378.83L466.31,381.75M470.92,377.23L470.92,381.32M475.52,376.04L475.52,381.37M480.12,375.05L480.12,381.11M484.73,374.40L484.73,380.37M489.33,372.54L489.33,380.66M493.93,371.82L493.93,380.57M498.54,370.03L498.54,380.18M503.14,369.09L503.14,379.88M507.74,367.91L507.74,379.30M512.34,366.75L512.34,378.54M516.95,366.02L516.95,378.52M521.55,364.94L521.55,377.24M526.15,364.86L526.15,377.51M530.76,363.88L530.76,376.16M535.36,363.02L535.36,374.51M539.96,362.22L539.96,375.89M544.56,359.88L544.56,374.97M549.17,359.61L549.17,374.50M553.77,358.10L553.77,373.12M558.37,359.08L558.37,372.94M562.98,356.64L562.98,372.12M567.58,355.91L567.58,370.79M572.18,356.43L572.18,371.22M576.79,356.95L576.79,369.66M581.39,354.28L581.39,369.54M585.99,353.87L585.99,369.05M590.59,352.41L590.59,366.71M595.20,352.06L595.20,367.57M599.80,352.30L599.80,364.86" fill="none" stroke="#5a0000" stroke-width="0.9"/>
<rect x="54.5" y="481.5" width="257.0" height="43.0" fill="none" stroke="#1c1c1c" stroke-width="1.1"/>
<line x1="140.2" y1="481.5" x2="140.2" y2="483.4" stroke="#1c1c1c" stroke-width="1"/>
<line x1="140.2" y1="524.5" x2="140.2" y2="522.6" stroke="#1c1c1c" stroke-width="1"/>
<line x1="225.8" y1="481.5" x2="225.8" y2="483.4" stroke="#1c1c1c" stroke-width="1"/>
<line x1="225.8" y1="524.5" x2="225.8" y2="522.6" stroke="#1c1c1c" stroke-width="1"/>
<line x1="54.5" y1="502.5" x2="56.4" y2="502.5" stroke="#1c1c1c" stroke-width="1"/>
<line x1="311.5" y1="502.5" x2="309.6" y2="502.5" stroke="#1c1c1c" stroke-width="1"/>
<text transform="translate(47.00,487.90) scale(0.9450,1)" font-family='"Liberation Sans", sans-serif' font-size="15.3" text-anchor="end" fill="#262626">5</text>
<text transform="translate(47.00,508.90) scale(0.9450,1)" font-family='"Liberation Sans", sans-serif' font-size="15.3" text-anchor="end" fill="#262626">0</text>
<text transform="translate(47.00,530.90) scale(0.9450,1)" font-family='"Liberation Sans", sans-serif' font-size="15.3" text-anchor="end" fill="#262626">-5</text>
<text transform="translate(53.70,546.80) scale(0.9450,1)" font-family='"Liberation Sans", sans-serif' font-size="15.3" text-anchor="middle" fill="#262626">0</text>
<text transform="translate(139.37,546.80) scale(0.9450,1)" font-family='"Liberation Sans", sans-serif' font-size="15.3" text-anchor="middle" fill="#262626">5000</text>
<text transform="translate(225.03,546.80) scale(0.9450,1)" font-family='"Liberation Sans", sans-serif' font-size="15.3" text-anchor="middle" fill="#262626">10000</text>
<text transform="translate(310.70,546.80) scale(0.9450,1)" font-family='"Liberation Sans", sans-serif' font-size="15.3" text-anchor="middle" fill="#262626">15000</text>
<line x1="84.0" y1="502.5" x2="251.0" y2="502.5" stroke="#a82222" stroke-width="1.3"/>
<line x1="54.5" y1="502.5" x2="84.0" y2="502.5" stroke="#3ad23a" stroke-width="1.3"/>
<polyline points="84.00,502.50 85.10,502.36 87.14,502.50 88.24,502.00 90.28,502.49 91.38,501.68 93.42,502.39 94.52,501.18 96.57,502.41 97.67,500.80 99.71,502.41 100.81,500.33 102.85,502.30 103.95,499.61 105.99,502.00 107.09,498.95 109.13,501.57 110.23,498.29 112.27,501.68 113.37,497.92 115.42,500.98 116.51,496.91 118.56,500.95 119.66,496.93 121.70,500.95 122.80,495.82 124.84,500.36 125.94,495.29 127.98,500.26 129.08,494.44 131.12,500.21 132.22,494.20 134.26,499.44 135.36,494.12 137.41,499.53 138.51,493.24 140.55,499.73 141.65,492.41 143.69,499.70 144.79,491.70 146.83,499.39 147.93,491.34 149.97,498.94 151.07,491.21 153.11,498.53 154.21,490.84 156.25,497.29 157.35,490.50 159.40,497.69 160.50,489.78 162.54,496.73 163.64,490.26 165.68,495.95 166.78,489.01 168.82,496.56 169.92,488.67 171.96,495.28 173.06,488.56 175.10,495.91 176.20,488.49 178.25,495.09 179.34,488.49 181.39,494.58 182.49,487.75 184.53,494.59 185.63,487.88 187.67,493.91 188.77,487.04 190.81,493.92 191.91,486.76 193.95,492.58 195.05,486.60 197.09,492.44 198.19,486.57 200.24,491.88 201.34,485.86 203.38,491.78 204.48,485.83 206.52,491.12 207.62,485.48 209.66,491.27 210.76,485.92 212.80,491.04 213.90,485.70 215.94,490.83 217.04,484.79 219.08,490.09 220.18,485.04 222.23,490.41 223.33,485.29 225.37,490.36 226.47,485.33 228.51,490.18 229.61,484.68 231.65,489.97 232.75,484.92 234.79,489.12 235.89,484.84 237.93,489.49 239.03,484.46 241.08,489.44 242.17,484.51 244.22,488.87 245.32,484.99 247.36,488.90 248.46,484.43 250.50,488.78 250.50,484.49" fill="none" stroke="#22f022" stroke-width="1.4" stroke-linejoin="bevel" />
<path d="M96.87,501.06L96.87,502.33M100.01,500.72L100.01,502.32M103.15,500.07L103.15,502.18M106.29,499.45L106.29,501.85M109.43,498.83L109.43,501.39M112.57,498.43L112.57,501.48M115.72,497.48L115.72,500.75M118.86,497.50L118.86,500.71M122.00,496.44L122.00,500.68M125.14,495.94L125.14,500.07M128.28,495.13L128.28,499.95M131.42,494.92L131.42,499.89M134.56,494.86L134.56,499.10M137.71,494.02L137.71,499.17M140.85,493.22L140.85,499.35M143.99,492.54L143.99,499.30M147.13,492.12L147.13,498.98M150.27,491.99L150.27,498.53M153.41,491.61L153.41,498.13M156.55,491.27L156.55,496.89M159.70,490.55L159.70,497.29M162.84,491.03L162.84,496.33M165.98,489.78L165.98,495.55M169.12,489.43L169.12,496.16M172.26,489.32L172.26,494.89M175.40,489.24L175.40,495.52M178.55,489.24L178.55,494.70M181.69,488.45L181.69,494.19M184.83,488.57L184.83,494.21M187.97,487.73L187.97,493.54M191.11,487.43L191.11,493.56M194.25,487.26L194.25,492.22M197.39,487.22L197.39,492.09M200.54,486.49L200.54,491.54M203.68,486.46L203.68,491.44M206.82,486.09L206.82,490.80M209.96,486.53L209.96,490.95M213.10,486.30L213.10,490.72M216.24,485.30L216.24,490.52M219.38,485.54L219.38,489.79M222.53,485.78L222.53,490.12M225.67,485.81L225.67,490.07M228.81,485.14L228.81,489.90M231.95,485.37L231.95,489.70M235.09,485.28L235.09,488.85M238.23,484.89L238.23,489.23M241.38,484.93L241.38,489.19M244.52,485.40L244.52,488.63M247.66,484.83L247.66,488.66M250.80,484.86L250.80,488.55" fill="none" stroke="#3aa83a" stroke-width="0.6"/>
<rect x="54.5" y="561.0" width="257.0" height="43.0" fill="none" stroke="#1c1c1c" stroke-width="1.1"/>
<line x1="140.2" y1="561.0" x2="140.2" y2="562.9" stroke="#1c1c1c" stroke-width="1"/>
<line x1="140.2" y1="604.0" x2="140.2" y2="602.1" stroke="#1c1c1c" stroke-width="1"/>
<line x1="225.8" y1="561.0" x2="225.8" y2="562.9" stroke="#1c1c1c" stroke-width="1"/>
<line x1="225.8" y1="604.0" x2="225.8" y2="602.1" stroke="#1c1c1c" stroke-width="1"/>
<line x1="54.5" y1="582.0" x2="56.4" y2="582.0" stroke="#1c1c1c" stroke-width="1"/>
<line x1="311.5" y1="582.0" x2="309.6" y2="582.0" stroke="#1c1c1c" stroke-width="1"/>
<text transform="translate(47.00,567.40) scale(0.9450,1)" font-family='"Liberation Sans", sans-serif' font-size="15.3" text-anchor="end" fill="#262626">5</text>
<text transform="translate(47.00,588.40) scale(0.9450,1)" font-family='"Liberation Sans", sans-serif' font-size="15.3" text-anchor="end" fill="#262626">0</text>
<text transform="translate(47.00,610.40) scale(0.9450,1)" font-family='"Liberation Sans", sans-serif' font-size="15.3" text-anchor="end" fill="#262626">-5</text>
<text transform="translate(53.70,626.30) scale(0.9450,1)" font-family='"Liberation Sans", sans-serif' font-size="15.3" text-anchor="middle" fill="#262626">0</text>
<text transform="translate(139.37,626.30) scale(0.9450,1)" font-family='"Liberation Sans", sans-serif' font-size="15.3" text-anchor="middle" fill="#262626">5000</text>
<text transform="translate(225.03,626.30) scale(0.9450,1)" font-family='"Liberation Sans", sans-serif' font-size="15.3" text-anchor="middle" fill="#262626">10000</text>
<text transform="translate(310.70,626.30) scale(0.9450,1)" font-family='"Liberation Sans", sans-serif' font-size="15.3" text-anchor="middle" fill="#262626">15000</text>
<line x1="84.0" y1="582.0" x2="251.0" y2="582.0" stroke="#a82222" stroke-width="1.3"/>
<line x1="54.5" y1="582.0" x2="84.0" y2="582.0" stroke="#3ad23a" stroke-width="1.3"/>
<polyline points="84.00,582.00 85.10,581.83 87.14,582.00 88.24,581.37 90.28,581.99 91.38,580.98 93.42,581.86 94.52,580.36 96.57,581.89 97.67,579.87 99.71,581.89 100.81,579.29 102.85,581.63 103.95,578.40 105.99,581.14 107.09,577.56 109.13,580.49 110.23,576.73 112.27,580.48 113.37,576.30 115.42,579.71 116.51,575.30 118.56,579.71 119.66,575.40 121.70,579.71 122.80,574.30 124.84,579.09 125.94,573.81 127.98,578.99 129.08,573.00 131.12,578.95 132.22,572.82 134.26,578.16 135.36,572.78 137.41,578.25 138.51,571.95 140.55,578.44 141.65,571.16 143.69,578.40 144.79,570.49 146.83,578.09 147.93,570.07 149.97,577.64 151.07,569.88 153.11,577.23 154.21,569.43 156.25,575.97 157.35,569.03 159.40,576.39 160.50,568.23 162.54,575.40 163.64,568.67 165.68,574.60 166.78,567.32 168.82,575.25 169.92,566.90 171.96,573.92 173.06,566.74 175.10,574.61 176.20,566.62 178.25,573.76 179.34,566.58 181.39,573.23 182.49,565.85 184.53,573.29 185.63,566.10 187.67,572.60 188.77,565.31 190.81,572.65 191.91,565.11 193.95,571.27 195.05,565.05 197.09,571.16 198.19,565.10 200.24,570.62 201.34,564.47 203.38,570.54 204.48,564.53 206.52,569.90 207.62,564.27 209.66,570.06 210.76,564.79 212.80,569.84 213.90,564.65 215.94,569.62 217.04,563.78 219.08,568.86 220.18,564.00 222.23,569.12 223.33,564.21 225.37,569.01 226.47,564.23 228.51,568.79 229.61,563.59 231.65,568.54 232.75,563.79 234.79,567.69 235.89,563.70 237.93,567.97 239.03,563.33 241.08,567.88 242.17,563.35 244.22,567.29 245.32,563.76 247.36,567.26 248.46,563.24 250.50,567.09 250.50,563.27" fill="none" stroke="#22f022" stroke-width="1.4" stroke-linejoin="bevel" />
<path d="M96.87,580.20L96.87,581.79M100.01,579.78L100.01,581.77M103.15,578.96L103.15,581.48M106.29,578.16L106.29,580.96M109.43,577.37L109.43,580.29M112.57,576.84L112.57,580.25M115.72,575.88L115.72,579.47M118.86,575.99L118.86,579.44M122.00,574.93L122.00,579.43M125.14,574.47L125.14,578.79M128.28,573.69L128.28,578.68M131.42,573.53L131.42,578.62M134.56,573.51L134.56,577.82M137.71,572.71L137.71,577.88M140.85,571.95L140.85,578.06M143.99,571.31L143.99,578.01M147.13,570.87L147.13,577.68M150.27,570.68L150.27,577.23M153.41,570.24L153.41,576.82M156.55,569.83L156.55,575.56M159.70,569.04L159.70,575.97M162.84,569.48L162.84,574.99M165.98,568.13L165.98,574.18M169.12,567.72L169.12,574.83M172.26,567.56L172.26,573.50M175.40,567.44L175.40,574.19M178.55,567.41L178.55,573.33M181.69,566.58L181.69,572.81M184.83,566.81L184.83,572.88M187.97,566.00L187.97,572.20M191.11,565.78L191.11,572.26M194.25,565.70L194.25,570.90M197.39,565.75L197.39,570.80M200.54,565.08L200.54,570.26M203.68,565.13L203.68,570.19M206.82,564.85L206.82,569.57M209.96,565.36L209.96,569.74M213.10,565.21L213.10,569.53M216.24,564.27L216.24,569.32M219.38,564.48L219.38,568.57M222.53,564.69L222.53,568.84M225.67,564.69L225.67,568.74M228.81,564.04L228.81,568.52M231.95,564.23L231.95,568.28M235.09,564.12L235.09,567.44M238.23,563.73L238.23,567.74M241.38,563.74L241.38,567.65M244.52,564.14L244.52,567.07M247.66,563.60L247.66,567.05M250.80,563.60L250.80,566.88" fill="none" stroke="#3aa83a" stroke-width="0.6"/>
<rect x="54.5" y="639.8" width="257.0" height="43.0" fill="none" stroke="#1c1c1c" stroke-width="1.1"/>
<line x1="140.2" y1="639.8" x2="140.2" y2="641.7" stroke="#1c1c1c" stroke-width="1"/>
<line x1="140.2" y1="682.8" x2="140.2" y2="680.9" stroke="#1c1c1c" stroke-width="1"/>
<line x1="225.8" y1="639.8" x2="225.8" y2="641.7" stroke="#1c1c1c" stroke-width="1"/>
<line x1="225.8" y1="682.8" x2="225.8" y2="680.9" stroke="#1c1c1c" stroke-width="1"/>
<line x1="54.5" y1="660.8" x2="56.4" y2="660.8" stroke="#1c1c1c" stroke-width="1"/>
<line x1="311.5" y1="660.8" x2="309.6" y2="660.8" stroke="#1c1c1c" stroke-width="1"/>
<text transform="translate(47.00,646.20) scale(0.9450,1)" font-family='"Liberation Sans", sans-serif' font-size="15.3" text-anchor="end" fill="#262626">5</text>
<text transform="translate(47.00,667.20) scale(0.9450,1)" font-family='"Liberation Sans", sans-serif' font-size="15.3" text-anchor="end" fill="#262626">0</text>
<text transform="translate(47.00,689.20) scale(0.9450,1)" font-family='"Liberation Sans", sans-serif' font-size="15.3" text-anchor="end" fill="#262626">-5</text>
<text transform="translate(53.70,705.10) scale(0.9450,1)" font-family='"Liberation Sans", sans-serif' font-size="15.3" text-anchor="middle" fill="#262626">0</text>
<text transform="translate(139.37,705.10) scale(0.9450,1)" font-family='"Liberation Sans", sans-serif' font-size="15.3" text-anchor="middle" fill="#262626">5000</text>
<text transform="translate(225.03,705.10) scale(0.9450,1)" font-family='"Liberation Sans", sans-serif' font-size="15.3" text-anchor="middle" fill="#262626">10000</text>
<text transform="translate(310.70,705.10) scale(0.9450,1)" font-family='"Liberation Sans", sans-serif' font-size="15.3" text-anchor="middle" fill="#262626">15000</text>
<line x1="84.0" y1="660.8" x2="100.0" y2="660.8" stroke="#a82222" stroke-width="1.3"/>
<polyline points="100.00,659.80 102.00,661.80 104.00,659.80 106.00,661.80 108.00,659.80 110.00,661.80 112.00,659.80 114.00,661.80 116.00,659.80 118.00,661.80 120.00,659.80 122.00,661.80 124.00,659.80 126.00,661.80 128.00,659.80 130.00,661.80 132.00,659.80 134.00,661.80 136.00,659.80 138.00,661.80 140.00,659.80 142.00,661.80 144.00,659.80 146.00,661.80 148.00,659.80 150.00,661.80 152.00,659.80 154.00,661.80 156.00,659.80 158.00,661.80 160.00,659.80 162.00,661.80 164.00,659.80 166.00,661.80 168.00,659.80 170.00,661.80 172.00,659.80 174.00,661.80 176.00,659.80 178.00,661.80 180.00,659.80 182.00,661.80 184.00,659.80 186.00,661.80 188.00,659.80 190.00,661.80 192.00,659.80 194.00,661.80 196.00,659.80 198.00,661.80 200.00,659.80 202.00,661.80 204.00,659.80 206.00,661.80 208.00,659.80 210.00,661.80 212.00,659.80 214.00,661.80 216.00,659.80 218.00,661.80 220.00,659.80 222.00,661.80 224.00,659.80 226.00,661.80 228.00,659.80 230.00,661.80 232.00,659.80 234.00,661.80 236.00,659.80 238.00,661.80 240.00,659.80 242.00,661.80 244.00,659.80 246.00,661.80 248.00,659.80 250.00,661.80" fill="none" stroke="#a01a1a" stroke-width="0.9" stroke-linejoin="bevel" stroke-linecap="round"/>
<line x1="54.5" y1="660.8" x2="84.0" y2="660.8" stroke="#3ad23a" stroke-width="1.3"/>
<polyline points="84.00,660.80 85.10,660.59 87.14,660.80 88.24,660.05 90.28,660.79 91.38,659.58 93.42,660.64 94.52,658.83 96.57,660.67 97.67,658.25 99.71,660.67 100.81,657.60 102.85,660.55 103.95,656.71 105.99,660.16 107.09,655.90 109.13,659.60 110.23,655.09 112.27,659.78 113.37,654.71 115.42,658.90 116.51,653.55 118.56,658.95 119.66,653.73 121.70,659.00 122.80,652.45 124.84,658.30 125.94,651.92 127.98,658.24 129.08,650.99 131.12,658.24 132.22,650.82 134.26,657.34 135.36,650.84 137.41,657.49 138.51,649.88 140.55,657.78 141.65,648.98 143.69,657.78 144.79,648.23 146.83,657.43 147.93,647.84 149.97,656.90 151.07,647.72 153.11,656.42 154.21,647.30 156.25,654.95 157.35,646.93 159.40,655.43 160.50,646.11 162.54,654.30 163.64,646.70 165.68,653.38 166.78,645.26 168.82,654.09 169.92,644.89 171.96,652.60 173.06,644.78 175.10,653.32 176.20,644.72 178.25,652.37 179.34,644.73 181.39,651.78 182.49,643.98 184.53,651.83 185.63,644.24 187.67,651.09 188.77,643.42 190.81,651.12 191.91,643.22 193.95,649.67 195.05,643.16 197.09,649.53 198.19,643.22 200.24,648.95 201.34,642.57 203.38,648.85 204.48,642.64 206.52,648.17 207.62,642.37 209.66,648.31 210.76,642.90 212.80,648.06 213.90,642.77 215.94,647.82 217.04,641.89 219.08,647.06 220.18,642.13 222.23,647.34 223.33,642.37 225.37,647.24 226.47,642.40 228.51,647.03 229.61,641.78 231.65,646.78 232.75,641.99 234.79,645.94 235.89,641.92 237.93,646.24 239.03,641.56 241.08,646.15 242.17,641.60 244.22,645.58 245.32,642.03 247.36,645.55 248.46,641.52 250.50,645.39 250.50,641.57" fill="none" stroke="#22f022" stroke-width="1.4" stroke-linejoin="bevel" />
<path d="M93.72,659.17L93.72,660.55M96.87,658.64L96.87,660.55M100.01,658.13L100.01,660.52M103.15,657.33L103.15,660.37M106.29,656.56L106.29,659.95M109.43,655.80L109.43,659.35M112.57,655.35L112.57,659.50M115.72,654.23L115.72,658.60M118.86,654.43L118.86,658.62M122.00,653.20L122.00,658.66M125.14,652.70L125.14,657.94M128.28,651.81L128.28,657.85M131.42,651.66L131.42,657.83M134.56,651.70L134.56,656.92M137.71,650.78L137.71,657.05M140.85,649.92L140.85,657.32M143.99,649.20L143.99,657.30M147.13,648.75L147.13,656.94M150.27,648.64L150.27,656.42M153.41,648.21L153.41,655.94M156.55,647.84L156.55,654.48M159.70,647.01L159.70,654.95M162.84,647.59L162.84,653.83M165.98,646.15L165.98,652.92M169.12,645.76L169.12,653.63M172.26,645.66L172.26,652.14M175.40,645.58L175.40,652.87M178.55,645.60L178.55,651.92M181.69,644.75L181.69,651.34M184.83,645.00L184.83,651.40M187.97,644.14L187.97,650.67M191.11,643.92L191.11,650.72M194.25,643.84L194.25,649.27M197.39,643.89L197.39,649.15M200.54,643.20L200.54,648.58M203.68,643.26L203.68,648.49M206.82,642.97L206.82,647.83M209.96,643.49L209.96,647.98M213.10,643.33L213.10,647.74M216.24,642.39L216.24,647.51M219.38,642.62L219.38,646.77M222.53,642.84L222.53,647.05M225.67,642.86L225.67,646.97M228.81,642.22L228.81,646.76M231.95,642.43L231.95,646.53M235.09,642.34L235.09,645.69M238.23,641.96L238.23,646.00M241.38,641.99L241.38,645.92M244.52,642.41L244.52,645.35M247.66,641.88L247.66,645.34M250.80,641.90L250.80,645.18" fill="none" stroke="#3aa83a" stroke-width="0.6"/>
<rect x="54.5" y="719.2" width="257.0" height="43.0" fill="none" stroke="#1c1c1c" stroke-width="1.1"/>
<line x1="140.2" y1="719.2" x2="140.2" y2="721.1" stroke="#1c1c1c" stroke-width="1"/>
<line x1="140.2" y1="762.2" x2="140.2" y2="760.3" stroke="#1c1c1c" stroke-width="1"/>
<line x1="225.8" y1="719.2" x2="225.8" y2="721.1" stroke="#1c1c1c" stroke-width="1"/>
<line x1="225.8" y1="762.2" x2="225.8" y2="760.3" stroke="#1c1c1c" stroke-width="1"/>
<line x1="54.5" y1="740.2" x2="56.4" y2="740.2" stroke="#1c1c1c" stroke-width="1"/>
<line x1="311.5" y1="740.2" x2="309.6" y2="740.2" stroke="#1c1c1c" stroke-width="1"/>
<text transform="translate(47.00,725.60) scale(0.9450,1)" font-family='"Liberation Sans", sans-serif' font-size="15.3" text-anchor="end" fill="#262626">5</text>
<text transform="translate(47.00,746.60) scale(0.9450,1)" font-family='"Liberation Sans", sans-serif' font-size="15.3" text-anchor="end" fill="#262626">0</text>
<text transform="translate(47.00,768.60) scale(0.9450,1)" font-family='"Liberation Sans", sans-serif' font-size="15.3" text-anchor="end" fill="#262626">-5</text>
<text transform="translate(53.70,784.50) scale(0.9450,1)" font-family='"Liberation Sans", sans-serif' font-size="15.3" text-anchor="middle" fill="#262626">0</text>
<text transform="translate(139.37,784.50) scale(0.9450,1)" font-family='"Liberation Sans", sans-serif' font-size="15.3" text-anchor="middle" fill="#262626">5000</text>
<text transform="translate(225.03,784.50) scale(0.9450,1)" font-family='"Liberation Sans", sans-serif' font-size="15.3" text-anchor="middle" fill="#262626">10000</text>
<text transform="translate(310.70,784.50) scale(0.9450,1)" font-family='"Liberation Sans", sans-serif' font-size="15.3" text-anchor="middle" fill="#262626">15000</text>
<line x1="84.0" y1="740.2" x2="251.0" y2="740.2" stroke="#a82222" stroke-width="1.3"/>
<line x1="54.5" y1="740.2" x2="84.0" y2="740.2" stroke="#3ad23a" stroke-width="1.3"/>
<polyline points="84.00,740.20 85.10,739.99 87.14,740.20 88.24,739.45 90.28,740.19 91.38,738.98 93.42,740.04 94.52,738.23 96.57,740.07 97.67,737.65 99.71,740.07 100.81,736.97 102.85,739.83 103.95,735.95 105.99,739.31 107.09,735.00 109.13,738.61 110.23,734.07 112.27,738.68 113.37,733.61 115.42,737.75 116.51,732.45 118.56,737.74 119.66,732.61 121.70,737.73 122.80,731.34 124.84,736.99 125.94,730.80 127.98,736.87 129.08,729.89 131.12,736.81 132.22,729.70 134.26,735.89 135.36,729.69 137.41,735.97 138.51,728.74 140.55,736.18 141.65,727.86 143.69,736.11 144.79,727.12 146.83,735.73 147.93,726.73 149.97,735.20 151.07,726.61 153.11,734.71 154.21,726.20 156.25,733.30 157.35,725.83 159.40,733.70 160.50,725.05 162.54,732.61 163.64,725.58 165.68,731.73 166.78,724.23 168.82,732.34 169.92,723.86 171.96,730.92 173.06,723.74 175.10,731.54 176.20,723.65 178.25,730.62 179.34,723.64 181.39,730.07 182.49,722.95 184.53,730.13 185.63,723.20 187.67,729.48 188.77,722.45 190.81,729.54 191.91,722.27 193.95,728.23 195.05,722.22 197.09,728.13 198.19,722.29 200.24,727.62 201.34,721.69 203.38,727.56 204.48,721.76 206.52,726.96 207.62,721.52 209.66,727.12 210.76,722.04 212.80,726.92 213.90,721.92 215.94,726.71 217.04,721.07 219.08,725.94 220.18,721.27 222.23,726.14 223.33,721.46 225.37,726.00 226.47,721.46 228.51,725.74 229.61,720.85 231.65,725.45 232.75,721.02 234.79,724.61 235.89,720.91 237.93,724.83 239.03,720.56 241.08,724.68 242.17,720.56 244.22,724.10 245.32,720.91 247.36,724.02 248.46,720.43 250.50,723.80 250.50,720.45" fill="none" stroke="#22f022" stroke-width="1.4" stroke-linejoin="bevel" />
<path d="M93.72,738.57L93.72,739.95M96.87,738.04L96.87,739.95M100.01,737.53L100.01,739.92M103.15,736.61L103.15,739.65M106.29,735.71L106.29,739.10M109.43,734.82L109.43,738.37M112.57,734.25L112.57,738.40M115.72,733.13L115.72,737.45M118.86,733.30L118.86,737.42M122.00,732.08L122.00,737.40M125.14,731.57L125.14,736.64M128.28,730.69L128.28,736.50M131.42,730.52L131.42,736.42M134.56,730.52L134.56,735.49M137.71,729.61L137.71,735.55M140.85,728.76L140.85,735.74M143.99,728.05L143.99,735.66M147.13,727.60L147.13,735.27M150.27,727.47L150.27,734.75M153.41,727.05L153.41,734.26M156.55,726.68L156.55,732.86M159.70,725.89L159.70,733.26M162.84,726.41L162.84,732.18M165.98,725.05L165.98,731.30M169.12,724.67L169.12,731.91M172.26,724.55L172.26,730.50M175.40,724.45L175.40,731.12M178.55,724.44L178.55,730.20M181.69,723.65L181.69,729.66M184.83,723.89L184.83,729.74M187.97,723.11L187.97,729.10M191.11,722.92L191.11,729.17M194.25,722.85L194.25,727.87M197.39,722.91L197.39,727.78M200.54,722.28L200.54,727.28M203.68,722.34L203.68,727.23M206.82,722.08L206.82,726.64M209.96,722.59L209.96,726.82M213.10,722.45L213.10,726.63M216.24,721.55L216.24,726.42M219.38,721.74L219.38,725.66M222.53,721.92L222.53,725.88M225.67,721.90L225.67,725.74M228.81,721.27L228.81,725.49M231.95,721.43L231.95,725.21M235.09,721.31L235.09,724.39M238.23,720.94L238.23,724.61M241.38,720.92L241.38,724.47M244.52,721.27L244.52,723.90M247.66,720.76L247.66,723.83M250.80,720.74L250.80,723.62" fill="none" stroke="#3aa83a" stroke-width="0.6"/>
<rect x="54.5" y="798.0" width="257.0" height="43.0" fill="none" stroke="#1c1c1c" stroke-width="1.1"/>
<line x1="140.2" y1="798.0" x2="140.2" y2="799.9" stroke="#1c1c1c" stroke-width="1"/>
<line x1="140.2" y1="841.0" x2="140.2" y2="839.1" stroke="#1c1c1c" stroke-width="1"/>
<line x1="225.8" y1="798.0" x2="225.8" y2="799.9" stroke="#1c1c1c" stroke-width="1"/>
<line x1="225.8" y1="841.0" x2="225.8" y2="839.1" stroke="#1c1c1c" stroke-width="1"/>
<line x1="54.5" y1="819.0" x2="56.4" y2="819.0" stroke="#1c1c1c" stroke-width="1"/>
<line x1="311.5" y1="819.0" x2="309.6" y2="819.0" stroke="#1c1c1c" stroke-width="1"/>
<text transform="translate(47.00,804.40) scale(0.9450,1)" font-family='"Liberation Sans", sans-serif' font-size="15.3" text-anchor="end" fill="#262626">5</text>
<text transform="translate(47.00,825.40) scale(0.9450,1)" font-family='"Liberation Sans", sans-serif' font-size="15.3" text-anchor="end" fill="#262626">0</text>
<text transform="translate(47.00,847.40) scale(0.9450,1)" font-family='"Liberation Sans", sans-serif' font-size="15.3" text-anchor="end" fill="#262626">-5</text>
<text transform="translate(53.70,863.30) scale(0.9450,1)" font-family='"Liberation Sans", sans-serif' font-size="15.3" text-anchor="middle" fill="#262626">0</text>
<text transform="translate(139.37,863.30) scale(0.9450,1)" font-family='"Liberation Sans", sans-serif' font-size="15.3" text-anchor="middle" fill="#262626">5000</text>
<text transform="translate(225.03,863.30) scale(0.9450,1)" font-family='"Liberation Sans", sans-serif' font-size="15.3" text-anchor="middle" fill="#262626">10000</text>
<text transform="translate(310.70,863.30) scale(0.9450,1)" font-family='"Liberation Sans", sans-serif' font-size="15.3" text-anchor="middle" fill="#262626">15000</text>
<line x1="84.0" y1="819.0" x2="251.0" y2="819.0" stroke="#a82222" stroke-width="1.3"/>
<line x1="54.5" y1="819.0" x2="84.0" y2="819.0" stroke="#3ad23a" stroke-width="1.3"/>
<polyline points="84.00,819.00 85.10,818.83 87.14,819.00 88.24,818.37 90.28,818.99 91.38,817.98 93.42,818.86 94.52,817.36 96.57,818.89 97.67,816.87 99.71,818.89 100.81,816.24 102.85,818.80 103.95,815.15 105.99,818.46 107.09,814.13 109.13,817.92 110.23,813.14 112.27,818.18 113.37,812.68 115.42,817.20 116.51,811.48 118.56,817.22 119.66,811.70 121.70,817.25 122.80,810.39 124.84,816.48 125.94,809.87 127.98,816.38 129.08,808.94 131.12,816.34 132.22,808.79 134.26,815.39 135.36,808.82 137.41,815.50 138.51,807.86 140.55,815.75 141.65,806.97 143.69,815.70 144.79,806.23 146.83,815.32 147.93,805.84 149.97,814.78 151.07,805.73 153.11,814.28 154.21,805.32 156.25,812.81 157.35,804.96 159.40,813.25 160.50,804.15 162.54,812.12 163.64,804.73 165.68,811.21 166.78,803.33 168.82,811.86 169.92,802.96 171.96,810.39 173.06,802.85 175.10,811.05 176.20,802.78 178.25,810.10 179.34,802.79 181.39,809.52 182.49,802.06 184.53,809.57 185.63,802.31 187.67,808.87 188.77,801.51 190.81,808.92 191.91,801.31 193.95,807.53 195.05,801.25 197.09,807.40 198.19,801.31 200.24,806.85 201.34,800.67 203.38,806.77 204.48,800.73 206.52,806.12 207.62,800.47 209.66,806.27 210.76,800.99 212.80,806.04 213.90,800.85 215.94,805.80 217.04,799.98 219.08,805.01 220.18,800.19 222.23,805.22 223.33,800.40 225.37,805.07 226.47,800.41 228.51,804.80 229.61,799.79 231.65,804.50 232.75,799.97 234.79,803.65 235.89,799.88 237.93,803.86 239.03,799.53 241.08,803.71 242.17,799.54 244.22,803.12 245.32,799.90 247.36,803.02 248.46,799.42 250.50,802.80 250.50,799.45" fill="none" stroke="#22f022" stroke-width="1.4" stroke-linejoin="bevel" />
<path d="M96.87,817.20L96.87,818.79M100.01,816.78L100.01,818.77M103.15,815.81L103.15,818.63M106.29,814.86L106.29,818.25M109.43,813.93L109.43,817.66M112.57,813.36L112.57,817.87M115.72,812.19L115.72,816.88M118.86,812.43L118.86,816.88M122.00,811.17L122.00,816.89M125.14,810.67L125.14,816.11M128.28,809.77L128.28,815.98M131.42,809.64L131.42,815.93M134.56,809.69L134.56,814.96M137.71,808.76L137.71,815.06M140.85,807.91L140.85,815.29M143.99,807.19L143.99,815.23M147.13,806.75L147.13,814.84M150.27,806.63L150.27,814.30M153.41,806.21L153.41,813.81M156.55,805.84L156.55,812.35M159.70,805.03L159.70,812.79M162.84,805.60L162.84,811.66M165.98,804.19L165.98,810.75M169.12,803.81L169.12,811.41M172.26,803.70L172.26,809.95M175.40,803.62L175.40,810.61M178.55,803.62L178.55,809.67M181.69,802.80L181.69,809.10M184.83,803.03L184.83,809.16M187.97,802.21L187.97,808.47M191.11,801.99L191.11,808.53M194.25,801.91L194.25,807.15M197.39,801.95L197.39,807.04M200.54,801.29L200.54,806.50M203.68,801.34L203.68,806.42M206.82,801.05L206.82,805.79M209.96,801.56L209.96,805.95M213.10,801.41L213.10,805.73M216.24,800.47L216.24,805.51M219.38,800.68L219.38,804.72M222.53,800.87L222.53,804.94M225.67,800.86L225.67,804.80M228.81,800.22L228.81,804.54M231.95,800.39L231.95,804.26M235.09,800.28L235.09,803.41M238.23,799.91L238.23,803.64M241.38,799.90L241.38,803.50M244.52,800.26L244.52,802.92M247.66,799.75L247.66,802.83M250.80,799.74L250.80,802.62" fill="none" stroke="#3aa83a" stroke-width="0.6"/>
<rect x="402.5" y="481.5" width="256.0" height="42.7" fill="none" stroke="#1c1c1c" stroke-width="1.1"/>
<line x1="487.8" y1="481.5" x2="487.8" y2="483.4" stroke="#1c1c1c" stroke-width="1"/>
<line x1="487.8" y1="524.2" x2="487.8" y2="522.3" stroke="#1c1c1c" stroke-width="1"/>
<line x1="573.2" y1="481.5" x2="573.2" y2="483.4" stroke="#1c1c1c" stroke-width="1"/>
<line x1="573.2" y1="524.2" x2="573.2" y2="522.3" stroke="#1c1c1c" stroke-width="1"/>
<line x1="402.5" y1="502.9" x2="404.4" y2="502.9" stroke="#1c1c1c" stroke-width="1"/>
<line x1="658.5" y1="502.9" x2="656.6" y2="502.9" stroke="#1c1c1c" stroke-width="1"/>
<text transform="translate(395.00,487.90) scale(0.9450,1)" font-family='"Liberation Sans", sans-serif' font-size="15.3" text-anchor="end" fill="#262626">4</text>
<text transform="translate(395.00,509.25) scale(0.9450,1)" font-family='"Liberation Sans", sans-serif' font-size="15.3" text-anchor="end" fill="#262626">2</text>
<text transform="translate(395.00,530.60) scale(0.9450,1)" font-family='"Liberation Sans", sans-serif' font-size="15.3" text-anchor="end" fill="#262626">0</text>
<text transform="translate(401.70,546.50) scale(0.9450,1)" font-family='"Liberation Sans", sans-serif' font-size="15.3" text-anchor="middle" fill="#262626">0</text>
<text transform="translate(487.03,546.50) scale(0.9450,1)" font-family='"Liberation Sans", sans-serif' font-size="15.3" text-anchor="middle" fill="#262626">5000</text>
<text transform="translate(572.37,546.50) scale(0.9450,1)" font-family='"Liberation Sans", sans-serif' font-size="15.3" text-anchor="middle" fill="#262626">10000</text>
<text transform="translate(657.70,546.50) scale(0.9450,1)" font-family='"Liberation Sans", sans-serif' font-size="15.3" text-anchor="middle" fill="#262626">15000</text>
<line x1="402.5" y1="523.90" x2="598.3" y2="523.90" stroke="#44dd44" stroke-width="1.4"/>
<line x1="419.0" y1="523.10" x2="598.3" y2="523.10" stroke="#0a200a" stroke-width="1.2" stroke-dasharray="0.9 2.2" opacity="1.0"/>
<line x1="423.0" y1="522.80" x2="449.0" y2="522.80" stroke="#6a5a1a" stroke-width="1.3" stroke-dasharray="2 1"/>
<path d="M437.00,524.20L439.00,523.75L441.00,523.30L443.00,522.85L445.00,522.41L447.00,521.96L449.00,521.51L451.00,520.90L453.00,520.30L455.00,519.69L457.00,519.09L459.00,518.48L461.00,517.87L463.00,517.27L465.00,516.66L467.00,516.06L469.00,515.45L471.00,514.85L473.00,514.25L475.00,513.65L477.00,513.05L479.00,512.44L481.00,511.84L483.00,511.24L485.00,510.64L487.00,510.04L489.00,509.43L491.00,508.83L493.00,508.23L495.00,507.63L497.00,507.02L499.00,506.42L501.00,505.86L503.00,505.34L505.00,504.82L507.00,504.31L509.00,503.79L511.00,503.27L513.00,502.75L515.00,502.23L517.00,501.71L519.00,501.19L521.00,500.67L523.00,500.16L525.00,499.64L527.00,499.12L529.00,498.60L531.00,498.08L533.00,497.56L535.00,497.04L537.00,496.64L539.00,496.24L541.00,495.85L543.00,495.45L545.00,495.05L547.00,494.65L549.00,494.25L551.00,493.85L553.00,493.45L555.00,493.05L557.00,492.65L559.00,492.26L561.00,491.86L563.00,491.46L565.00,491.06L567.00,490.66L569.00,490.26L571.00,489.95L573.00,489.73L575.00,489.50L577.00,489.28L579.00,489.06L581.00,488.84L583.00,488.61L585.00,488.39L587.00,488.17L589.00,487.94L591.00,487.72L593.00,487.50L595.00,487.27L597.00,487.05L599.00,486.83L599.00,504.18L597.00,504.52L595.00,504.85L593.00,505.18L591.00,505.52L589.00,505.85L587.00,506.18L585.00,506.52L583.00,506.85L581.00,507.19L579.00,507.52L577.00,507.85L575.00,508.19L573.00,508.52L571.00,508.85L569.00,509.20L567.00,509.57L565.00,509.94L563.00,510.31L561.00,510.68L559.00,511.05L557.00,511.42L555.00,511.79L553.00,512.16L551.00,512.53L549.00,512.90L547.00,513.27L545.00,513.64L543.00,514.01L541.00,514.38L539.00,514.75L537.00,515.12L535.00,515.49L533.00,515.79L531.00,516.08L529.00,516.38L527.00,516.67L525.00,516.97L523.00,517.27L521.00,517.56L519.00,517.86L517.00,518.16L515.00,518.45L513.00,518.75L511.00,519.04L509.00,519.34L507.00,519.64L505.00,519.93L503.00,520.23L501.00,520.52L499.00,520.73L497.00,520.85L495.00,520.97L493.00,521.09L491.00,521.21L489.00,521.33L487.00,521.45L485.00,521.57L483.00,521.69L481.00,521.81L479.00,521.93L477.00,522.05L475.00,522.17L473.00,522.29L471.00,522.41L469.00,522.53L467.00,522.65L465.00,522.79L463.00,522.93L461.00,523.07L459.00,523.21L457.00,523.35L455.00,523.48L453.00,523.62L451.00,523.76L449.00,523.90L447.00,523.95L445.00,524.00L443.00,524.05L441.00,524.10L439.00,524.15L437.00,524.20Z" fill="#ff8080"/>
<polyline points="437.00,524.20 437.56,524.06 441.63,524.08 442.18,523.07 446.26,524.19 446.81,521.79 450.89,523.88 451.44,520.40 455.51,523.84 456.07,519.49 460.14,522.85 460.70,517.37 464.77,523.53 465.33,515.84 469.40,523.25 469.96,514.88 474.03,521.78 474.58,513.07 478.66,523.10 479.21,511.79 483.29,522.99 483.84,511.26 487.91,522.43 488.47,508.14 492.54,521.98 493.10,506.64 497.17,522.53 497.73,505.09 501.80,522.18 502.36,504.46 506.43,518.81 506.98,502.61 511.06,520.02 511.61,501.18 515.69,518.65 516.24,502.34 520.31,517.00 520.87,501.58 524.94,517.47 525.50,497.34 529.57,517.59 530.13,496.55 534.20,515.27 534.76,495.28 538.83,516.92 539.38,496.43 543.46,516.19 544.01,494.09 548.09,514.34 548.64,492.09 552.71,513.37 553.27,491.91 557.34,511.15 557.90,490.52 561.97,512.02 562.53,492.70 566.60,511.93 567.16,488.94 571.23,511.09 571.78,487.72 575.86,508.48 576.41,488.47 580.49,508.26 581.04,486.70 585.11,507.56 585.67,487.82 589.74,505.05 590.30,487.37 594.37,506.42 594.93,486.97 599.00,506.11 599.00,484.74" fill="none" stroke="#ff0000" stroke-width="2.1" stroke-linejoin="bevel" />
<path d="M446.56,522.11L446.56,524.07M451.19,520.87L451.19,523.71M455.81,520.05L455.81,523.60M460.44,518.05L460.44,522.54M465.07,516.63L465.07,523.15M469.70,515.77L469.70,522.81M474.33,514.08L474.33,521.26M478.96,512.90L478.96,522.51M483.59,512.48L483.59,522.33M488.21,509.48L488.21,521.70M492.84,508.10L492.84,521.19M497.47,506.66L497.47,521.66M502.10,506.09L502.10,521.26M506.73,504.29L506.73,517.85M511.36,502.91L511.36,519.04M515.99,504.11L515.99,517.63M520.61,503.40L520.61,515.95M525.24,499.22L525.24,516.39M529.87,498.48L529.87,516.48M534.50,497.26L534.50,514.12M539.13,498.39L539.13,515.77M543.76,496.06L543.76,515.03M548.39,494.06L548.39,513.17M553.01,493.89L553.01,512.20M557.64,492.51L557.64,509.98M562.27,494.69L562.27,510.85M566.90,490.94L566.90,510.75M571.53,489.66L571.53,509.91M576.16,490.40L576.16,507.32M580.79,488.60L580.79,507.11M585.41,489.69L585.41,506.42M590.04,489.21L590.04,503.93M594.67,488.80L594.67,505.32M599.30,486.48L599.30,505.02" fill="none" stroke="#5a0000" stroke-width="0.9"/>
<rect x="402.5" y="561.0" width="256.0" height="42.7" fill="none" stroke="#1c1c1c" stroke-width="1.1"/>
<line x1="487.8" y1="561.0" x2="487.8" y2="562.9" stroke="#1c1c1c" stroke-width="1"/>
<line x1="487.8" y1="603.7" x2="487.8" y2="601.8" stroke="#1c1c1c" stroke-width="1"/>
<line x1="573.2" y1="561.0" x2="573.2" y2="562.9" stroke="#1c1c1c" stroke-width="1"/>
<line x1="573.2" y1="603.7" x2="573.2" y2="601.8" stroke="#1c1c1c" stroke-width="1"/>
<line x1="402.5" y1="582.4" x2="404.4" y2="582.4" stroke="#1c1c1c" stroke-width="1"/>
<line x1="658.5" y1="582.4" x2="656.6" y2="582.4" stroke="#1c1c1c" stroke-width="1"/>
<text transform="translate(395.00,567.40) scale(0.9450,1)" font-family='"Liberation Sans", sans-serif' font-size="15.3" text-anchor="end" fill="#262626">4</text>
<text transform="translate(395.00,588.75) scale(0.9450,1)" font-family='"Liberation Sans", sans-serif' font-size="15.3" text-anchor="end" fill="#262626">2</text>
<text transform="translate(395.00,610.10) scale(0.9450,1)" font-family='"Liberation Sans", sans-serif' font-size="15.3" text-anchor="end" fill="#262626">0</text>
<text transform="translate(401.70,626.00) scale(0.9450,1)" font-family='"Liberation Sans", sans-serif' font-size="15.3" text-anchor="middle" fill="#262626">0</text>
<text transform="translate(487.03,626.00) scale(0.9450,1)" font-family='"Liberation Sans", sans-serif' font-size="15.3" text-anchor="middle" fill="#262626">5000</text>
<text transform="translate(572.37,626.00) scale(0.9450,1)" font-family='"Liberation Sans", sans-serif' font-size="15.3" text-anchor="middle" fill="#262626">10000</text>
<text transform="translate(657.70,626.00) scale(0.9450,1)" font-family='"Liberation Sans", sans-serif' font-size="15.3" text-anchor="middle" fill="#262626">15000</text>
<line x1="402.5" y1="603.40" x2="598.3" y2="603.40" stroke="#50e050" stroke-width="1.4"/>
<line x1="419.0" y1="602.60" x2="598.3" y2="602.60" stroke="#0a200a" stroke-width="1.2" stroke-dasharray="0.9 2.2" opacity="0.5"/>
<line x1="423.0" y1="602.30" x2="449.0" y2="602.30" stroke="#6a5a1a" stroke-width="1.3" stroke-dasharray="2 1"/>
<path d="M437.00,603.70L439.00,603.19L441.00,602.68L443.00,602.16L445.00,601.65L447.00,601.14L449.00,600.63L451.00,599.91L453.00,599.20L455.00,598.48L457.00,597.77L459.00,597.05L461.00,596.34L463.00,595.62L465.00,594.91L467.00,594.19L469.00,593.48L471.00,592.76L473.00,592.16L475.00,591.66L477.00,591.16L479.00,590.66L481.00,590.16L483.00,589.67L485.00,589.17L487.00,588.67L489.00,588.17L491.00,587.67L493.00,587.18L495.00,586.68L497.00,586.18L499.00,585.68L501.00,585.18L503.00,584.68L505.00,584.19L507.00,583.62L509.00,583.05L511.00,582.48L513.00,581.92L515.00,581.35L517.00,580.78L519.00,580.21L521.00,579.64L523.00,579.08L525.00,578.51L527.00,577.94L529.00,577.37L531.00,576.81L533.00,576.24L535.00,575.67L537.00,575.10L539.00,574.54L541.00,574.18L543.00,573.83L545.00,573.47L547.00,573.12L549.00,572.77L551.00,572.41L553.00,572.06L555.00,571.70L557.00,571.35L559.00,570.99L561.00,570.64L563.00,570.29L565.00,569.93L567.00,569.58L569.00,569.22L571.00,568.87L573.00,568.51L575.00,568.16L577.00,567.81L579.00,567.47L581.00,567.12L583.00,566.78L585.00,566.43L587.00,566.09L589.00,565.74L591.00,565.39L593.00,565.05L595.00,564.70L597.00,564.36L599.00,564.01L599.00,582.97L597.00,583.29L595.00,583.62L593.00,583.94L591.00,584.26L589.00,584.58L587.00,584.91L585.00,585.23L583.00,585.55L581.00,585.88L579.00,586.20L577.00,586.52L575.00,586.85L573.00,587.24L571.00,587.64L569.00,588.04L567.00,588.44L565.00,588.84L563.00,589.23L561.00,589.63L559.00,590.03L557.00,590.43L555.00,590.82L553.00,591.22L551.00,591.62L549.00,592.02L547.00,592.42L545.00,592.81L543.00,593.21L541.00,593.61L539.00,594.01L537.00,594.29L535.00,594.58L533.00,594.87L531.00,595.15L529.00,595.44L527.00,595.73L525.00,596.01L523.00,596.30L521.00,596.58L519.00,596.87L517.00,597.16L515.00,597.44L513.00,597.73L511.00,598.02L509.00,598.30L507.00,598.59L505.00,598.87L503.00,599.01L501.00,599.15L499.00,599.28L497.00,599.42L495.00,599.55L493.00,599.69L491.00,599.83L489.00,599.96L487.00,600.10L485.00,600.23L483.00,600.37L481.00,600.51L479.00,600.64L477.00,600.78L475.00,600.91L473.00,601.05L471.00,601.21L469.00,601.41L467.00,601.60L465.00,601.80L463.00,601.99L461.00,602.19L459.00,602.38L457.00,602.58L455.00,602.77L453.00,602.97L451.00,603.16L449.00,603.36L447.00,603.42L445.00,603.47L443.00,603.53L441.00,603.59L439.00,603.64L437.00,603.70Z" fill="#ff8080"/>
<polyline points="437.00,603.70 437.56,603.54 441.63,603.57 442.18,602.41 446.26,603.68 446.81,600.95 450.89,603.30 451.44,599.34 455.51,603.17 456.07,598.24 460.14,601.96 460.70,595.77 464.77,602.63 465.33,593.98 469.40,602.21 469.96,592.81 474.03,600.49 474.58,591.00 478.66,601.87 479.21,589.99 483.29,601.69 483.84,589.74 487.91,601.06 488.47,586.86 492.54,600.56 493.10,585.64 497.17,601.02 497.73,584.36 501.80,600.79 502.36,583.84 506.43,597.78 506.98,581.97 511.06,598.98 511.61,580.41 515.69,597.64 516.24,581.42 520.31,596.02 520.87,580.55 524.94,596.51 525.50,576.17 529.57,596.68 530.13,575.27 534.20,594.35 534.76,573.87 538.83,596.28 539.38,574.74 543.46,595.49 544.01,572.45 548.09,593.51 548.64,570.52 552.71,592.46 553.27,570.48 557.34,590.15 557.90,569.21 561.97,590.97 562.53,571.52 566.60,590.79 567.16,567.87 571.23,589.86 571.78,566.60 575.86,587.15 576.41,567.04 580.49,586.97 581.04,564.94 585.11,586.31 585.67,565.80 589.74,583.75 590.30,565.06 594.37,585.30 594.93,564.38 599.00,585.07 599.00,561.73" fill="none" stroke="#ff0000" stroke-width="2.1" stroke-linejoin="bevel" />
<path d="M446.56,601.31L446.56,603.55M451.19,599.87L451.19,603.10M455.81,598.88L455.81,602.89M460.44,596.55L460.44,601.61M465.07,594.88L465.07,602.21M469.70,593.82L469.70,601.71M474.33,592.05L474.33,599.92M478.96,591.12L478.96,601.25M483.59,590.95L483.59,601.02M488.21,588.17L488.21,600.34M492.84,587.03L492.84,599.79M497.47,585.84L497.47,600.19M502.10,585.40L502.10,599.91M506.73,583.62L506.73,596.85M511.36,582.13L511.36,598.01M515.99,583.20L515.99,596.63M520.61,582.39L520.61,594.96M525.24,578.09L525.24,595.42M529.87,577.25L529.87,595.54M534.50,575.91L534.50,593.18M539.13,576.80L539.13,595.07M543.76,574.48L543.76,594.28M548.39,572.55L548.39,592.30M553.01,572.50L553.01,591.26M557.64,571.21L557.64,588.95M562.27,573.52L562.27,589.78M566.90,569.85L566.90,589.61M571.53,568.57L571.53,588.69M576.16,569.01L576.16,585.98M580.79,566.91L580.79,585.80M585.41,567.78L585.41,585.13M590.04,567.04L590.04,582.57M594.67,566.37L594.67,584.11M599.30,563.63L599.30,583.89" fill="none" stroke="#5a0000" stroke-width="0.9"/>
<rect x="402.5" y="639.5" width="256.0" height="42.7" fill="none" stroke="#1c1c1c" stroke-width="1.1"/>
<line x1="487.8" y1="639.5" x2="487.8" y2="641.4" stroke="#1c1c1c" stroke-width="1"/>
<line x1="487.8" y1="682.2" x2="487.8" y2="680.3" stroke="#1c1c1c" stroke-width="1"/>
<line x1="573.2" y1="639.5" x2="573.2" y2="641.4" stroke="#1c1c1c" stroke-width="1"/>
<line x1="573.2" y1="682.2" x2="573.2" y2="680.3" stroke="#1c1c1c" stroke-width="1"/>
<line x1="402.5" y1="660.9" x2="404.4" y2="660.9" stroke="#1c1c1c" stroke-width="1"/>
<line x1="658.5" y1="660.9" x2="656.6" y2="660.9" stroke="#1c1c1c" stroke-width="1"/>
<text transform="translate(395.00,645.90) scale(0.9450,1)" font-family='"Liberation Sans", sans-serif' font-size="15.3" text-anchor="end" fill="#262626">4</text>
<text transform="translate(395.00,667.25) scale(0.9450,1)" font-family='"Liberation Sans", sans-serif' font-size="15.3" text-anchor="end" fill="#262626">2</text>
<text transform="translate(395.00,688.60) scale(0.9450,1)" font-family='"Liberation Sans", sans-serif' font-size="15.3" text-anchor="end" fill="#262626">0</text>
<text transform="translate(401.70,704.50) scale(0.9450,1)" font-family='"Liberation Sans", sans-serif' font-size="15.3" text-anchor="middle" fill="#262626">0</text>
<text transform="translate(487.03,704.50) scale(0.9450,1)" font-family='"Liberation Sans", sans-serif' font-size="15.3" text-anchor="middle" fill="#262626">5000</text>
<text transform="translate(572.37,704.50) scale(0.9450,1)" font-family='"Liberation Sans", sans-serif' font-size="15.3" text-anchor="middle" fill="#262626">10000</text>
<text transform="translate(657.70,704.50) scale(0.9450,1)" font-family='"Liberation Sans", sans-serif' font-size="15.3" text-anchor="middle" fill="#262626">15000</text>
<line x1="402.5" y1="681.90" x2="598.3" y2="681.90" stroke="#50e050" stroke-width="1.4"/>
<line x1="402.5" y1="682.60" x2="598.3" y2="682.60" stroke="#2a6a2a" stroke-width="0.8"/>
<line x1="423.0" y1="680.80" x2="449.0" y2="680.80" stroke="#6a5a1a" stroke-width="1.3" stroke-dasharray="2 1"/>
<path d="M437.00,682.20L439.00,681.69L441.00,681.18L443.00,680.66L445.00,680.15L447.00,679.64L449.00,679.13L451.00,678.39L453.00,677.66L455.00,676.93L457.00,676.20L459.00,675.47L461.00,674.74L463.00,674.01L465.00,673.28L467.00,672.55L469.00,671.88L471.00,671.22L473.00,670.55L475.00,669.89L477.00,669.22L479.00,668.56L481.00,667.89L483.00,667.23L485.00,666.56L487.00,665.90L489.00,665.23L491.00,664.57L493.00,663.90L495.00,663.24L497.00,662.57L499.00,661.91L501.00,661.33L503.00,660.83L505.00,660.33L507.00,659.84L509.00,659.34L511.00,658.84L513.00,658.34L515.00,657.85L517.00,657.35L519.00,656.85L521.00,656.35L523.00,655.86L525.00,655.36L527.00,654.86L529.00,654.37L531.00,653.87L533.00,653.37L535.00,652.87L537.00,652.49L539.00,652.10L541.00,651.71L543.00,651.33L545.00,650.94L547.00,650.55L549.00,650.17L551.00,649.78L553.00,649.40L555.00,649.01L557.00,648.62L559.00,648.24L561.00,647.85L563.00,647.46L565.00,647.08L567.00,646.69L569.00,646.30L571.00,645.99L573.00,645.76L575.00,645.53L577.00,645.30L579.00,645.06L581.00,644.83L583.00,644.60L585.00,644.37L587.00,644.13L589.00,643.90L591.00,643.67L593.00,643.43L595.00,643.20L597.00,642.97L599.00,642.74L599.00,660.43L597.00,660.81L595.00,661.18L593.00,661.55L591.00,661.93L589.00,662.30L587.00,662.68L585.00,663.05L583.00,663.42L581.00,663.80L579.00,664.17L577.00,664.55L575.00,664.92L573.00,665.29L571.00,665.67L569.00,666.05L567.00,666.45L565.00,666.84L563.00,667.23L561.00,667.63L559.00,668.02L557.00,668.42L555.00,668.81L553.00,669.21L551.00,669.60L549.00,669.99L547.00,670.39L545.00,670.78L543.00,671.18L541.00,671.57L539.00,671.97L537.00,672.36L535.00,672.75L533.00,673.03L531.00,673.31L529.00,673.59L527.00,673.87L525.00,674.15L523.00,674.43L521.00,674.71L519.00,674.98L517.00,675.26L515.00,675.54L513.00,675.82L511.00,676.10L509.00,676.38L507.00,676.66L505.00,676.93L503.00,677.21L501.00,677.49L499.00,677.73L497.00,677.91L495.00,678.10L493.00,678.29L491.00,678.48L489.00,678.67L487.00,678.86L485.00,679.05L483.00,679.24L481.00,679.43L479.00,679.61L477.00,679.80L475.00,679.99L473.00,680.18L471.00,680.37L469.00,680.56L467.00,680.75L465.00,680.87L463.00,680.99L461.00,681.12L459.00,681.24L457.00,681.36L455.00,681.49L453.00,681.61L451.00,681.74L449.00,681.86L447.00,681.92L445.00,681.97L443.00,682.03L441.00,682.09L439.00,682.14L437.00,682.20Z" fill="#ff8080"/>
<polyline points="437.00,682.20 437.56,682.04 441.63,682.07 442.18,680.91 446.26,682.18 446.81,679.45 450.89,681.88 451.44,677.80 455.51,681.93 456.07,676.69 460.14,680.83 460.70,674.12 464.77,681.78 465.33,672.27 469.40,681.44 469.96,671.22 474.03,679.55 474.58,669.19 478.66,680.99 479.21,667.80 483.29,680.72 483.84,667.27 487.91,679.94 488.47,663.76 492.54,679.30 493.10,662.13 497.17,679.77 497.73,660.43 501.80,679.34 502.36,659.84 506.43,675.73 506.98,657.98 511.06,677.17 511.61,656.58 515.69,675.77 516.24,658.01 520.31,674.08 520.87,657.33 524.94,674.69 525.50,652.88 529.57,674.91 530.13,652.19 534.20,672.50 534.76,650.96 538.83,674.30 539.38,652.30 543.46,673.51 544.01,649.90 548.09,671.52 548.64,647.86 552.71,670.48 553.27,647.76 557.34,668.13 557.90,646.39 561.97,669.03 562.53,648.76 566.60,668.91 567.16,644.90 571.23,668.00 571.78,643.67 575.86,665.21 576.41,644.46 580.49,664.91 581.04,642.62 585.11,664.12 585.67,643.78 589.74,661.47 590.30,643.30 594.37,662.80 594.93,642.89 599.00,662.39 599.00,640.61" fill="none" stroke="#ff0000" stroke-width="2.1" stroke-linejoin="bevel" />
<path d="M446.56,679.81L446.56,682.05M451.19,678.36L451.19,681.67M455.81,677.36L455.81,681.63M460.44,674.95L460.44,680.45M465.07,673.24L465.07,681.31M469.70,672.28L469.70,680.89M474.33,670.38L474.33,678.93M478.96,669.09L478.96,680.30M483.59,668.66L483.59,679.96M488.21,665.28L488.21,679.12M492.84,663.76L492.84,678.41M497.47,662.17L497.47,678.81M502.10,661.61L502.10,678.32M506.73,659.80L506.73,674.69M511.36,658.45L511.36,676.09M515.99,659.92L515.99,674.66M520.61,659.29L520.61,672.94M525.24,654.91L525.24,673.51M529.87,654.26L529.87,673.71M534.50,653.09L534.50,671.27M539.13,654.40L539.13,673.06M543.76,651.99L543.76,672.27M548.39,649.95L548.39,670.28M553.01,649.85L553.01,669.25M557.64,648.48L557.64,666.89M562.27,650.84L562.27,667.80M566.90,646.98L566.90,667.67M571.53,645.70L571.53,666.77M576.16,646.46L576.16,664.01M580.79,644.58L580.79,663.73M585.41,645.71L585.41,662.95M590.04,645.20L590.04,660.32M594.67,644.76L594.67,661.68M599.30,642.38L599.30,661.29" fill="none" stroke="#5a0000" stroke-width="0.9"/>
<rect x="402.5" y="719.1" width="256.0" height="42.7" fill="none" stroke="#1c1c1c" stroke-width="1.1"/>
<line x1="487.8" y1="719.1" x2="487.8" y2="721.0" stroke="#1c1c1c" stroke-width="1"/>
<line x1="487.8" y1="761.8" x2="487.8" y2="759.9" stroke="#1c1c1c" stroke-width="1"/>
<line x1="573.2" y1="719.1" x2="573.2" y2="721.0" stroke="#1c1c1c" stroke-width="1"/>
<line x1="573.2" y1="761.8" x2="573.2" y2="759.9" stroke="#1c1c1c" stroke-width="1"/>
<line x1="402.5" y1="740.5" x2="404.4" y2="740.5" stroke="#1c1c1c" stroke-width="1"/>
<line x1="658.5" y1="740.5" x2="656.6" y2="740.5" stroke="#1c1c1c" stroke-width="1"/>
<text transform="translate(395.00,725.50) scale(0.9450,1)" font-family='"Liberation Sans", sans-serif' font-size="15.3" text-anchor="end" fill="#262626">4</text>
<text transform="translate(395.00,746.85) scale(0.9450,1)" font-family='"Liberation Sans", sans-serif' font-size="15.3" text-anchor="end" fill="#262626">2</text>
<text transform="translate(395.00,768.20) scale(0.9450,1)" font-family='"Liberation Sans", sans-serif' font-size="15.3" text-anchor="end" fill="#262626">0</text>
<text transform="translate(401.70,784.10) scale(0.9450,1)" font-family='"Liberation Sans", sans-serif' font-size="15.3" text-anchor="middle" fill="#262626">0</text>
<text transform="translate(487.03,784.10) scale(0.9450,1)" font-family='"Liberation Sans", sans-serif' font-size="15.3" text-anchor="middle" fill="#262626">5000</text>
<text transform="translate(572.37,784.10) scale(0.9450,1)" font-family='"Liberation Sans", sans-serif' font-size="15.3" text-anchor="middle" fill="#262626">10000</text>
<text transform="translate(657.70,784.10) scale(0.9450,1)" font-family='"Liberation Sans", sans-serif' font-size="15.3" text-anchor="middle" fill="#262626">15000</text>
<line x1="402.5" y1="761.50" x2="598.3" y2="761.50" stroke="#1f8f1f" stroke-width="1.4"/>
<line x1="418.0" y1="760.40" x2="444.0" y2="760.40" stroke="#6a5a1a" stroke-width="1.3" stroke-dasharray="2 1"/>
<path d="M432.00,761.80L434.00,761.28L436.00,760.75L438.00,760.23L440.00,759.70L442.00,759.18L444.00,758.65L446.00,758.13L448.00,757.60L450.00,756.97L452.00,756.23L454.00,755.49L456.00,754.75L458.00,754.01L460.00,753.27L462.00,752.53L464.00,751.78L466.00,751.04L468.00,750.36L470.00,749.73L472.00,749.11L474.00,748.48L476.00,747.85L478.00,747.23L480.00,746.60L482.00,745.97L484.00,745.34L486.00,744.72L488.00,744.09L490.00,743.46L492.00,742.84L494.00,742.21L496.00,741.58L498.00,740.96L500.00,740.33L502.00,739.84L504.00,739.34L506.00,738.85L508.00,738.36L510.00,737.87L512.00,737.37L514.00,736.88L516.00,736.39L518.00,735.89L520.00,735.40L522.00,734.91L524.00,734.42L526.00,733.92L528.00,733.43L530.00,732.94L532.00,732.44L534.00,731.95L536.00,731.51L538.00,731.13L540.00,730.75L542.00,730.37L544.00,729.99L546.00,729.61L548.00,729.22L550.00,728.84L552.00,728.46L554.00,728.08L556.00,727.70L558.00,727.32L560.00,726.93L562.00,726.55L564.00,726.17L566.00,725.79L568.00,725.41L570.00,725.03L572.00,724.83L574.00,724.63L576.00,724.44L578.00,724.24L580.00,724.04L582.00,723.85L584.00,723.65L586.00,723.45L588.00,723.26L590.00,723.06L592.00,722.86L594.00,722.67L596.00,722.47L598.00,722.27L598.00,739.08L596.00,739.41L594.00,739.75L592.00,740.08L590.00,740.41L588.00,740.75L586.00,741.08L584.00,741.41L582.00,741.75L580.00,742.08L578.00,742.41L576.00,742.75L574.00,743.08L572.00,743.41L570.00,743.75L568.00,744.17L566.00,744.60L564.00,745.03L562.00,745.46L560.00,745.89L558.00,746.32L556.00,746.75L554.00,747.17L552.00,747.60L550.00,748.03L548.00,748.46L546.00,748.89L544.00,749.32L542.00,749.74L540.00,750.17L538.00,750.60L536.00,751.03L534.00,751.37L532.00,751.63L530.00,751.89L528.00,752.15L526.00,752.41L524.00,752.67L522.00,752.93L520.00,753.18L518.00,753.44L516.00,753.70L514.00,753.96L512.00,754.22L510.00,754.48L508.00,754.74L506.00,754.99L504.00,755.25L502.00,755.51L500.00,755.77L498.00,756.01L496.00,756.25L494.00,756.48L492.00,756.72L490.00,756.96L488.00,757.20L486.00,757.43L484.00,757.67L482.00,757.91L480.00,758.15L478.00,758.38L476.00,758.62L474.00,758.86L472.00,759.10L470.00,759.33L468.00,759.57L466.00,759.78L464.00,759.96L462.00,760.14L460.00,760.32L458.00,760.50L456.00,760.68L454.00,760.86L452.00,761.04L450.00,761.22L448.00,761.33L446.00,761.39L444.00,761.45L442.00,761.51L440.00,761.57L438.00,761.63L436.00,761.68L434.00,761.74L432.00,761.80Z" fill="#ff8080"/>
<polyline points="432.00,761.80 432.56,761.64 436.64,761.78 437.20,760.36 441.28,761.66 441.83,759.07 445.92,761.21 446.47,757.69 450.56,761.06 451.11,756.34 455.19,761.18 455.75,755.16 459.83,760.93 460.39,753.02 464.47,760.15 465.03,750.66 469.11,759.79 469.67,749.81 473.75,758.32 474.31,747.75 478.39,757.91 478.95,745.53 483.03,757.18 483.58,745.42 487.67,757.43 488.22,742.40 492.31,757.16 492.86,742.15 496.94,757.12 497.50,739.74 501.58,756.44 502.14,738.69 506.22,754.95 506.78,739.28 510.86,755.37 511.42,735.42 515.50,755.55 516.06,734.73 520.14,755.05 520.70,734.86 524.78,754.02 525.33,733.31 529.42,753.18 529.97,732.99 534.06,751.94 534.61,730.42 538.69,752.75 539.25,728.79 543.33,750.02 543.89,729.94 547.97,750.75 548.53,726.86 552.61,749.50 553.17,727.42 557.25,748.85 557.81,725.02 561.89,747.26 562.45,724.14 566.53,745.36 567.08,724.60 571.17,744.07 571.72,722.84 575.81,745.05 576.36,722.31 580.44,744.11 581.00,721.76 585.08,742.70 585.64,722.82 589.72,742.52 590.28,721.79 594.36,739.19 594.92,720.81 599.00,738.90 599.00,722.69" fill="none" stroke="#ff0000" stroke-width="2.1" stroke-linejoin="bevel" />
<path d="M441.58,759.44L441.58,761.52M446.22,758.17L446.22,761.01M450.86,756.99L450.86,760.78M455.49,755.93L455.49,760.82M460.13,753.93L460.13,760.49M464.77,751.71L464.77,759.63M469.41,750.92L469.41,759.20M474.05,748.96L474.05,757.68M478.69,746.84L478.69,757.21M483.33,746.81L483.33,756.42M487.97,743.89L487.97,756.61M492.61,743.72L492.61,756.29M497.24,741.41L497.24,756.19M501.88,740.39L501.88,755.46M506.52,741.03L506.52,753.93M511.16,737.24L511.16,754.32M515.80,736.60L515.80,754.47M520.44,736.78L520.44,753.94M525.08,735.28L525.08,752.87M529.72,735.02L529.72,752.00M534.36,732.51L534.36,750.73M538.99,730.84L538.99,751.53M543.63,731.98L543.63,748.81M548.27,728.89L548.27,749.55M552.91,729.44L552.91,748.31M557.55,727.03L557.55,747.66M562.19,726.13L562.19,746.07M566.83,726.58L566.83,744.19M571.47,724.75L571.47,742.90M576.11,724.19L576.11,743.91M580.74,723.61L580.74,742.99M585.38,724.65L585.38,741.59M590.02,723.58L590.02,741.44M594.66,722.56L594.66,738.12M599.30,724.36L599.30,737.85" fill="none" stroke="#5a0000" stroke-width="0.9"/>
<rect x="402.5" y="797.8" width="256.0" height="42.7" fill="none" stroke="#1c1c1c" stroke-width="1.1"/>
<line x1="487.8" y1="797.8" x2="487.8" y2="799.7" stroke="#1c1c1c" stroke-width="1"/>
<line x1="487.8" y1="840.5" x2="487.8" y2="838.6" stroke="#1c1c1c" stroke-width="1"/>
<line x1="573.2" y1="797.8" x2="573.2" y2="799.7" stroke="#1c1c1c" stroke-width="1"/>
<line x1="573.2" y1="840.5" x2="573.2" y2="838.6" stroke="#1c1c1c" stroke-width="1"/>
<line x1="402.5" y1="819.1" x2="404.4" y2="819.1" stroke="#1c1c1c" stroke-width="1"/>
<line x1="658.5" y1="819.1" x2="656.6" y2="819.1" stroke="#1c1c1c" stroke-width="1"/>
<text transform="translate(395.00,804.20) scale(0.9450,1)" font-family='"Liberation Sans", sans-serif' font-size="15.3" text-anchor="end" fill="#262626">4</text>
<text transform="translate(395.00,825.55) scale(0.9450,1)" font-family='"Liberation Sans", sans-serif' font-size="15.3" text-anchor="end" fill="#262626">2</text>
<text transform="translate(395.00,846.90) scale(0.9450,1)" font-family='"Liberation Sans", sans-serif' font-size="15.3" text-anchor="end" fill="#262626">0</text>
<text transform="translate(401.70,862.80) scale(0.9450,1)" font-family='"Liberation Sans", sans-serif' font-size="15.3" text-anchor="middle" fill="#262626">0</text>
<text transform="translate(487.03,862.80) scale(0.9450,1)" font-family='"Liberation Sans", sans-serif' font-size="15.3" text-anchor="middle" fill="#262626">5000</text>
<text transform="translate(572.37,862.80) scale(0.9450,1)" font-family='"Liberation Sans", sans-serif' font-size="15.3" text-anchor="middle" fill="#262626">10000</text>
<text transform="translate(657.70,862.80) scale(0.9450,1)" font-family='"Liberation Sans", sans-serif' font-size="15.3" text-anchor="middle" fill="#262626">15000</text>
<line x1="402.5" y1="840.20" x2="598.3" y2="840.20" stroke="#66e066" stroke-width="1.4"/>
<line x1="422.0" y1="839.10" x2="448.0" y2="839.10" stroke="#6a5a1a" stroke-width="1.3" stroke-dasharray="2 1"/>
<path d="M436.00,840.50L438.00,840.15L440.00,839.79L442.00,839.44L444.00,839.08L446.00,838.73L448.00,838.37L450.00,837.79L452.00,836.97L454.00,836.16L456.00,835.35L458.00,834.53L460.00,833.72L462.00,832.91L464.00,832.09L466.00,831.28L468.00,830.56L470.00,829.94L472.00,829.32L474.00,828.70L476.00,828.08L478.00,827.47L480.00,826.85L482.00,826.23L484.00,825.61L486.00,824.99L488.00,824.37L490.00,823.75L492.00,823.13L494.00,822.51L496.00,821.89L498.00,821.27L500.00,820.65L502.00,820.12L504.00,819.58L506.00,819.05L508.00,818.52L510.00,817.98L512.00,817.45L514.00,816.91L516.00,816.38L518.00,815.84L520.00,815.31L522.00,814.78L524.00,814.24L526.00,813.71L528.00,813.17L530.00,812.64L532.00,812.10L534.00,811.57L536.00,811.11L538.00,810.72L540.00,810.33L542.00,809.95L544.00,809.56L546.00,809.17L548.00,808.78L550.00,808.40L552.00,808.01L554.00,807.62L556.00,807.24L558.00,806.85L560.00,806.46L562.00,806.07L564.00,805.69L566.00,805.30L568.00,804.91L570.00,804.53L572.00,804.30L574.00,804.07L576.00,803.84L578.00,803.61L580.00,803.38L582.00,803.15L584.00,802.92L586.00,802.69L588.00,802.46L590.00,802.23L592.00,802.00L594.00,801.77L596.00,801.54L598.00,801.31L598.00,818.29L596.00,818.66L594.00,819.03L592.00,819.40L590.00,819.77L588.00,820.14L586.00,820.52L584.00,820.89L582.00,821.26L580.00,821.63L578.00,822.00L576.00,822.37L574.00,822.74L572.00,823.11L570.00,823.48L568.00,823.88L566.00,824.29L564.00,824.69L562.00,825.09L560.00,825.49L558.00,825.89L556.00,826.29L554.00,826.69L552.00,827.09L550.00,827.49L548.00,827.89L546.00,828.29L544.00,828.70L542.00,829.10L540.00,829.50L538.00,829.90L536.00,830.30L534.00,830.66L532.00,830.98L530.00,831.30L528.00,831.62L526.00,831.94L524.00,832.26L522.00,832.58L520.00,832.90L518.00,833.22L516.00,833.54L514.00,833.86L512.00,834.18L510.00,834.50L508.00,834.81L506.00,835.13L504.00,835.45L502.00,835.77L500.00,836.09L498.00,836.24L496.00,836.39L494.00,836.54L492.00,836.69L490.00,836.84L488.00,836.99L486.00,837.14L484.00,837.29L482.00,837.44L480.00,837.59L478.00,837.74L476.00,837.89L474.00,838.03L472.00,838.18L470.00,838.33L468.00,838.48L466.00,838.65L464.00,838.84L462.00,839.03L460.00,839.21L458.00,839.40L456.00,839.59L454.00,839.78L452.00,839.96L450.00,840.15L448.00,840.26L446.00,840.30L444.00,840.34L442.00,840.38L440.00,840.42L438.00,840.46L436.00,840.50Z" fill="#ff8080"/>
<polyline points="436.00,840.50 436.56,840.39 440.66,840.44 441.22,839.53 445.31,840.36 445.87,838.58 449.97,840.44 450.53,837.28 454.63,840.16 455.19,835.19 459.29,839.72 459.84,833.58 463.94,839.64 464.50,831.39 468.60,838.20 469.16,829.35 473.26,838.08 473.82,829.04 477.91,838.95 478.47,826.21 482.57,837.85 483.13,824.45 487.23,838.29 487.79,824.82 491.89,835.94 492.44,821.40 496.54,838.09 497.10,819.83 501.20,837.53 501.76,819.57 505.86,834.29 506.42,817.59 510.51,836.43 511.07,816.66 515.17,835.80 515.73,816.90 519.83,834.48 520.39,813.02 524.49,833.40 525.04,811.77 529.14,833.69 529.70,810.44 533.80,832.99 534.36,810.12 538.46,828.66 539.02,808.40 543.11,830.07 543.67,807.29 547.77,828.29 548.33,809.22 552.43,826.25 552.99,808.80 557.09,826.61 557.64,804.54 561.74,826.52 562.30,804.15 566.40,823.86 566.96,803.23 571.06,825.47 571.62,804.60 575.71,824.69 576.27,802.66 580.37,822.80 580.93,801.09 585.03,821.80 585.59,801.31 589.69,819.64 590.24,800.38 594.34,820.36 594.90,802.71 599.00,820.14 599.00,799.69" fill="none" stroke="#ff0000" stroke-width="2.1" stroke-linejoin="bevel" />
<path d="M445.61,838.84L445.61,840.27M450.27,837.76L450.27,840.30M454.93,835.82L454.93,839.92M459.59,834.34L459.59,839.39M464.24,832.31L464.24,839.22M468.90,830.34L468.90,837.70M473.56,830.13L473.56,837.51M478.21,827.42L478.21,838.31M482.87,825.78L482.87,837.14M487.53,826.23L487.53,837.52M492.19,822.94L492.19,835.10M496.84,821.48L496.84,837.18M501.50,821.28L501.50,836.55M506.16,819.36L506.16,833.29M510.81,818.47L510.81,835.40M515.47,818.75L515.47,834.74M520.13,814.94L520.13,833.38M524.79,813.73L524.79,832.27M529.44,812.45L529.44,832.53M534.10,812.18L534.10,831.80M538.76,810.43L538.76,827.46M543.41,809.31L543.41,828.88M548.07,811.24L548.07,827.09M552.73,810.82L552.73,825.06M557.39,806.55L557.39,825.42M562.04,806.16L562.04,825.33M566.70,805.24L566.70,822.67M571.36,806.56L571.36,824.29M576.01,804.58L576.01,823.53M580.67,802.97L580.67,821.66M585.33,803.16L585.33,820.68M589.99,802.20L589.99,818.54M594.64,804.50L594.64,819.28M599.30,801.38L599.30,819.09" fill="none" stroke="#5a0000" stroke-width="0.9"/>
<rect x="263.5" y="6.5" width="113.0" height="43.0" fill="#ffffff" stroke="#1c1c1c" stroke-width="1.1"/>
<line x1="267.0" y1="18.5" x2="303.0" y2="18.5" stroke="#b0262e" stroke-width="1.5"/>
<line x1="267.0" y1="37.5" x2="303.0" y2="37.5" stroke="#4cc458" stroke-width="1.5"/>
<text x="306.50" y="23.80" font-family='"Liberation Sans", sans-serif' font-size="14.4" text-anchor="start" font-weight="normal" fill="#262626" >Material A</text>
<text x="306.50" y="43.60" font-family='"Liberation Sans", sans-serif' font-size="14.4" text-anchor="start" font-weight="normal" fill="#262626" >Material B</text>
<rect x="269.5" y="461.5" width="111.0" height="42.0" fill="#ffffff" stroke="#1c1c1c" stroke-width="1.1"/>
<line x1="273.0" y1="471.5" x2="308.0" y2="471.5" stroke="#b0262e" stroke-width="1.5"/>
<line x1="273.0" y1="492.5" x2="308.0" y2="492.5" stroke="#4cc458" stroke-width="1.5"/>
<text x="312.00" y="476.90" font-family='"Liberation Sans", sans-serif' font-size="14.4" text-anchor="start" font-weight="normal" fill="#262626" >Material A</text>
<text x="312.00" y="497.40" font-family='"Liberation Sans", sans-serif' font-size="14.4" text-anchor="start" font-weight="normal" fill="#262626" >Material B</text>
<text x="0" y="0" transform="translate(18.80,211.60) rotate(-90)" font-family='"Liberation Sans", sans-serif' font-size="17.7" text-anchor="middle" fill="#262626">Concentration</text>
<text x="0" y="0" transform="translate(369.80,212.70) rotate(-90)" font-family='"Liberation Sans", sans-serif' font-size="17.7" text-anchor="middle" fill="#262626">Concentration</text>
<text x="0" y="0" transform="translate(19.80,673.50) rotate(-90)" font-family='"Liberation Sans", sans-serif' font-size="17.7" text-anchor="middle" fill="#262626">Concentration</text>
<text x="0" y="0" transform="translate(374.80,676.40) rotate(-90)" font-family='"Liberation Sans", sans-serif' font-size="17.7" text-anchor="middle" fill="#262626">Concentration</text>
<text x="179.00" y="430.90" font-family='"Liberation Sans", sans-serif' font-size="18" text-anchor="middle" font-weight="normal" fill="#262626" >t</text>
<text x="531.00" y="430.90" font-family='"Liberation Sans", sans-serif' font-size="18" text-anchor="middle" font-weight="normal" fill="#262626" >t</text>
<text x="183.10" y="888.00" font-family='"Liberation Sans", sans-serif' font-size="18" text-anchor="middle" font-weight="normal" fill="#262626" >t</text>
<text x="531.00" y="888.00" font-family='"Liberation Sans", sans-serif' font-size="18" text-anchor="middle" font-weight="normal" fill="#262626" >t</text>
<text x="346.50" y="437.60" font-family='"Liberation Serif", serif' font-size="21.8" text-anchor="middle" font-weight="bold" fill="#000000" >(a)</text>
<text x="350.00" y="899.80" font-family='"Liberation Serif", serif' font-size="21.8" text-anchor="middle" font-weight="bold" fill="#000000" >(b)</text>
</svg>
</body></html>
